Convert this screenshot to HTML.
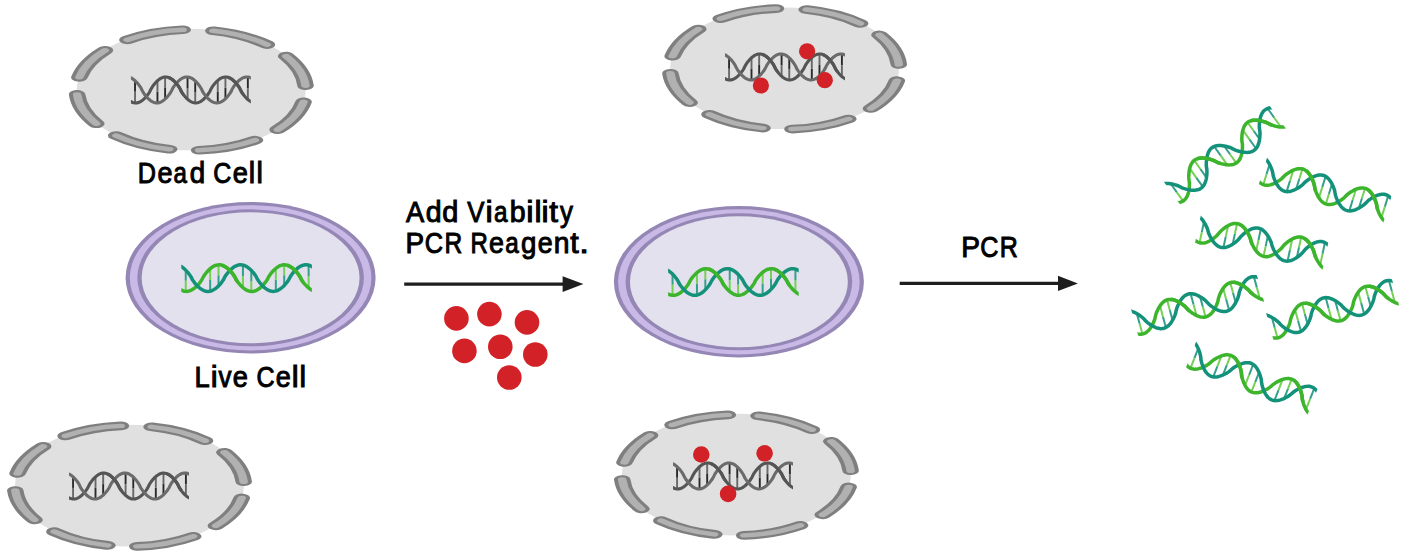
<!DOCTYPE html>
<html><head><meta charset="utf-8"><style>
html,body{margin:0;padding:0;background:#fff;}
body{width:1401px;height:554px;overflow:hidden;position:relative;}
svg{position:absolute;left:0;top:0;}
text{font-family:"Liberation Sans",sans-serif;font-size:29.1px;font-weight:normal;fill:#000;stroke:#000;stroke-width:1.0px;}
</style></head><body>
<svg width="1401" height="554" viewBox="0 0 1401 554">
<g transform="translate(191.30,89.50)">
<ellipse cx="0" cy="0" rx="114.5" ry="60.8" fill="#e0e0e0"/>
<g transform="translate(0,0.5) scale(1.9120,1.0085)">
<path d="M-33.409,-49.718 A59.90,59.90 0 0 1 -4.491,-59.731 M11.532,-58.779 A59.90,59.90 0 0 1 39.534,-45.001 M49.601,-33.582 A59.90,59.90 0 0 1 59.747,-4.283 M58.739,11.737 A59.90,59.90 0 0 1 45.138,39.377 M33.322,49.776 A59.90,59.90 0 0 1 4.074,59.761 M-11.532,58.779 A59.90,59.90 0 0 1 -39.298,45.207 M-49.659,33.496 A59.90,59.90 0 0 1 -59.739,4.387 M-58.569,-12.556 A59.90,59.90 0 0 1 -45.138,-39.377" fill="none" stroke="#7f7f7f" stroke-width="8.6" stroke-linecap="round"/>
<path d="M-33.409,-49.718 A59.90,59.90 0 0 1 -4.491,-59.731 M11.532,-58.779 A59.90,59.90 0 0 1 39.534,-45.001 M49.601,-33.582 A59.90,59.90 0 0 1 59.747,-4.283 M58.739,11.737 A59.90,59.90 0 0 1 45.138,39.377 M33.322,49.776 A59.90,59.90 0 0 1 4.074,59.761 M-11.532,58.779 A59.90,59.90 0 0 1 -39.298,45.207 M-49.659,33.496 A59.90,59.90 0 0 1 -59.739,4.387 M-58.569,-12.556 A59.90,59.90 0 0 1 -45.138,-39.377" fill="none" stroke="#b1b1b1" stroke-width="4.4" stroke-linecap="round"/>
</g></g>
<g transform="translate(130.95,74.95)">
<clipPath id="ca"><rect x="0" y="-5" width="119.90" height="40.00"/></clipPath>
<g clip-path="url(#ca)">
<line x1="4.08" y1="5.78" x2="4.08" y2="16.88" stroke="#2a2a2a" stroke-width="1.90"/>
<line x1="4.08" y1="16.88" x2="4.08" y2="27.98" stroke="#686868" stroke-width="1.90"/>
<line x1="26.50" y1="27.98" x2="26.50" y2="16.91" stroke="#2a2a2a" stroke-width="1.90"/>
<line x1="26.50" y1="16.91" x2="26.50" y2="5.83" stroke="#686868" stroke-width="1.90"/>
<line x1="34.17" y1="24.11" x2="34.17" y2="13.06" stroke="#2a2a2a" stroke-width="1.90"/>
<line x1="34.17" y1="13.06" x2="34.17" y2="2.01" stroke="#686868" stroke-width="1.90"/>
<line x1="56.59" y1="2.03" x2="56.59" y2="13.15" stroke="#2a2a2a" stroke-width="1.90"/>
<line x1="56.59" y1="13.15" x2="56.59" y2="24.28" stroke="#686868" stroke-width="1.90"/>
<line x1="64.27" y1="6.00" x2="64.27" y2="17.00" stroke="#2a2a2a" stroke-width="1.90"/>
<line x1="64.27" y1="17.00" x2="64.27" y2="27.99" stroke="#686868" stroke-width="1.90"/>
<line x1="86.81" y1="27.95" x2="86.81" y2="16.73" stroke="#2a2a2a" stroke-width="1.90"/>
<line x1="86.81" y1="16.73" x2="86.81" y2="5.51" stroke="#686868" stroke-width="1.90"/>
<line x1="94.48" y1="23.77" x2="94.48" y2="12.89" stroke="#2a2a2a" stroke-width="1.90"/>
<line x1="94.48" y1="12.89" x2="94.48" y2="2.00" stroke="#686868" stroke-width="1.90"/>
<line x1="116.90" y1="2.06" x2="116.90" y2="13.33" stroke="#2a2a2a" stroke-width="1.90"/>
<line x1="116.90" y1="13.33" x2="116.90" y2="24.60" stroke="#686868" stroke-width="1.90"/>
<path d="M-3.60,24.06 L-2.54,24.98 L-1.48,25.79 L-0.42,26.48 L0.64,27.04 L1.70,27.48 L2.76,27.78 L3.82,27.96 L4.88,28.00 L5.94,27.91 L6.99,27.68 L8.05,27.33 L9.11,26.84 L10.17,26.23 L11.23,25.50 L12.29,24.65 L13.35,23.68 L14.41,22.60 L15.47,21.40 L16.53,20.09 L17.59,18.65 L18.64,17.03 L19.70,14.86 L20.76,12.84 L21.82,11.24 L22.88,9.81 L23.94,8.51 L25.00,7.32 L26.06,6.24 L27.12,5.28 L28.18,4.44 L29.24,3.72 L30.29,3.12 L31.35,2.64 L32.41,2.30 L33.47,2.08 L34.53,2.00 L35.59,2.05 L36.65,2.24 L37.71,2.55 L38.77,3.00 L39.83,3.57 L40.89,4.27 L41.95,5.08 L43.00,6.02 L44.06,7.07 L45.12,8.23 L46.18,9.50 L47.24,10.90 L48.30,12.46 L49.36,14.31 L50.42,16.62 L51.48,18.30 L52.54,19.77 L53.60,21.11 L54.65,22.33 L55.71,23.44 L56.77,24.44 L57.83,25.32 L58.89,26.08 L59.95,26.72 L61.01,27.23 L62.07,27.61 L63.13,27.87 L64.19,27.99 L65.25,27.98 L66.30,27.83 L67.36,27.56 L68.42,27.15 L69.48,26.62 L70.54,25.96 L71.60,25.18 L72.66,24.28 L73.72,23.26 L74.78,22.14 L75.84,20.89 L76.90,19.53 L77.95,18.03 L79.01,16.31 L80.07,13.95 L81.13,12.18 L82.19,10.66 L83.25,9.28 L84.31,8.02 L85.37,6.88 L86.43,5.85 L87.49,4.94 L88.55,4.14 L89.61,3.46 L90.66,2.91 L91.72,2.49 L92.78,2.20 L93.84,2.03 L94.90,2.01 L95.96,2.11 L97.02,2.35 L98.08,2.71 L99.14,3.21 L100.20,3.83 L101.26,4.57 L102.31,5.44 L103.37,6.42 L104.43,7.51 L105.49,8.72 L106.55,10.04 L107.61,11.50 L108.67,13.14 L109.73,15.39 L110.79,17.32 L111.85,18.90 L112.91,20.32 L113.96,21.61 L115.02,22.79 L116.08,23.85 L117.14,24.80 L118.20,25.63 L119.26,26.35 L120.32,26.93 L121.38,27.40 L122.44,27.73 L123.50,27.93" fill="none" stroke="#555555" stroke-width="3.10"/>
<path d="M-3.60,2.01 L-2.54,2.13 L-1.48,2.38 L-0.42,2.76 L0.64,3.27 L1.70,3.91 L2.76,4.67 L3.82,5.54 L4.88,6.54 L5.94,7.64 L6.99,8.86 L8.05,10.20 L9.11,11.67 L10.17,13.34 L11.23,15.65 L12.29,17.51 L13.35,19.07 L14.41,20.47 L15.47,21.75 L16.53,22.91 L17.59,23.96 L18.64,24.90 L19.70,25.72 L20.76,26.42 L21.82,26.99 L22.88,27.44 L23.94,27.76 L25.00,27.95 L26.06,28.00 L27.12,27.92 L28.18,27.71 L29.24,27.37 L30.29,26.89 L31.35,26.30 L32.41,25.57 L33.47,24.73 L34.53,23.77 L35.59,22.70 L36.65,21.52 L37.71,20.22 L38.77,18.79 L39.83,17.19 L40.89,15.19 L41.95,13.01 L43.00,11.38 L44.06,9.94 L45.12,8.62 L46.18,7.43 L47.24,6.34 L48.30,5.37 L49.36,4.51 L50.42,3.78 L51.48,3.17 L52.54,2.68 L53.60,2.32 L54.65,2.10 L55.71,2.00 L56.77,2.04 L57.83,2.21 L58.89,2.52 L59.95,2.95 L61.01,3.51 L62.07,4.19 L63.13,5.00 L64.19,5.92 L65.25,6.96 L66.30,8.11 L67.36,9.38 L68.42,10.77 L69.48,12.30 L70.54,14.11 L71.60,16.45 L72.66,18.15 L73.72,19.64 L74.78,20.99 L75.84,22.22 L76.90,23.34 L77.95,24.35 L79.01,25.24 L80.07,26.01 L81.13,26.66 L82.19,27.19 L83.25,27.58 L84.31,27.85 L85.37,27.98 L86.43,27.98 L87.49,27.85 L88.55,27.59 L89.61,27.19 L90.66,26.67 L91.72,26.03 L92.78,25.26 L93.84,24.37 L94.90,23.36 L95.96,22.25 L97.02,21.02 L98.08,19.67 L99.14,18.18 L100.20,16.48 L101.26,14.14 L102.31,12.34 L103.37,10.79 L104.43,9.40 L105.49,8.14 L106.55,6.98 L107.61,5.94 L108.67,5.02 L109.73,4.21 L110.79,3.52 L111.85,2.96 L112.91,2.52 L113.96,2.22 L115.02,2.04 L116.08,2.00 L117.14,2.09 L118.20,2.32 L119.26,2.67 L120.32,3.16 L121.38,3.77 L122.44,4.50 L123.50,5.35" fill="none" stroke="#6b6b6b" stroke-width="3.10"/>
<path d="M38.10,2.70 L38.82,3.02 L39.54,3.40 L40.26,3.84 L40.98,4.33 L41.70,4.88 L42.41,5.48 L43.13,6.14 L43.85,6.85 L44.57,7.61 L45.29,8.42 L46.01,9.29 L46.73,10.21 L47.45,11.20 L48.17,12.26 L48.89,13.43 L49.61,14.89 L50.33,16.47 L51.05,17.65 L51.77,18.72 L52.49,19.71" fill="none" stroke="#555555" stroke-width="3.10"/>
<path d="M98.05,2.70 L98.77,3.02 L99.49,3.40 L100.21,3.84 L100.93,4.33 L101.65,4.88 L102.36,5.48 L103.08,6.14 L103.80,6.85 L104.52,7.61 L105.24,8.42 L105.96,9.29 L106.68,10.21 L107.40,11.20 L108.12,12.26 L108.84,13.43 L109.56,14.89 L110.28,16.47 L111.00,17.65 L111.72,18.72 L112.44,19.71" fill="none" stroke="#555555" stroke-width="3.10"/>
</g>
</g>
<g transform="translate(784.60,68.30)">
<ellipse cx="0" cy="0" rx="114.5" ry="60.8" fill="#e0e0e0"/>
<g transform="translate(0,0.5) scale(1.9120,1.0085)">
<path d="M-33.409,-49.718 A59.90,59.90 0 0 1 -4.491,-59.731 M11.532,-58.779 A59.90,59.90 0 0 1 39.534,-45.001 M49.601,-33.582 A59.90,59.90 0 0 1 59.747,-4.283 M58.739,11.737 A59.90,59.90 0 0 1 45.138,39.377 M33.322,49.776 A59.90,59.90 0 0 1 4.074,59.761 M-11.532,58.779 A59.90,59.90 0 0 1 -39.298,45.207 M-49.659,33.496 A59.90,59.90 0 0 1 -59.739,4.387 M-58.569,-12.556 A59.90,59.90 0 0 1 -45.138,-39.377" fill="none" stroke="#7f7f7f" stroke-width="8.6" stroke-linecap="round"/>
<path d="M-33.409,-49.718 A59.90,59.90 0 0 1 -4.491,-59.731 M11.532,-58.779 A59.90,59.90 0 0 1 39.534,-45.001 M49.601,-33.582 A59.90,59.90 0 0 1 59.747,-4.283 M58.739,11.737 A59.90,59.90 0 0 1 45.138,39.377 M33.322,49.776 A59.90,59.90 0 0 1 4.074,59.761 M-11.532,58.779 A59.90,59.90 0 0 1 -39.298,45.207 M-49.659,33.496 A59.90,59.90 0 0 1 -59.739,4.387 M-58.569,-12.556 A59.90,59.90 0 0 1 -45.138,-39.377" fill="none" stroke="#b1b1b1" stroke-width="4.4" stroke-linecap="round"/>
</g></g>
<g transform="translate(725.00,51.95)">
<clipPath id="cb"><rect x="0" y="-5" width="119.90" height="40.00"/></clipPath>
<g clip-path="url(#cb)">
<line x1="4.08" y1="5.78" x2="4.08" y2="16.88" stroke="#2a2a2a" stroke-width="1.90"/>
<line x1="4.08" y1="16.88" x2="4.08" y2="27.98" stroke="#686868" stroke-width="1.90"/>
<line x1="26.50" y1="27.98" x2="26.50" y2="16.91" stroke="#2a2a2a" stroke-width="1.90"/>
<line x1="26.50" y1="16.91" x2="26.50" y2="5.83" stroke="#686868" stroke-width="1.90"/>
<line x1="34.17" y1="24.11" x2="34.17" y2="13.06" stroke="#2a2a2a" stroke-width="1.90"/>
<line x1="34.17" y1="13.06" x2="34.17" y2="2.01" stroke="#686868" stroke-width="1.90"/>
<line x1="56.59" y1="2.03" x2="56.59" y2="13.15" stroke="#2a2a2a" stroke-width="1.90"/>
<line x1="56.59" y1="13.15" x2="56.59" y2="24.28" stroke="#686868" stroke-width="1.90"/>
<line x1="64.27" y1="6.00" x2="64.27" y2="17.00" stroke="#2a2a2a" stroke-width="1.90"/>
<line x1="64.27" y1="17.00" x2="64.27" y2="27.99" stroke="#686868" stroke-width="1.90"/>
<line x1="86.81" y1="27.95" x2="86.81" y2="16.73" stroke="#2a2a2a" stroke-width="1.90"/>
<line x1="86.81" y1="16.73" x2="86.81" y2="5.51" stroke="#686868" stroke-width="1.90"/>
<line x1="94.48" y1="23.77" x2="94.48" y2="12.89" stroke="#2a2a2a" stroke-width="1.90"/>
<line x1="94.48" y1="12.89" x2="94.48" y2="2.00" stroke="#686868" stroke-width="1.90"/>
<line x1="116.90" y1="2.06" x2="116.90" y2="13.33" stroke="#2a2a2a" stroke-width="1.90"/>
<line x1="116.90" y1="13.33" x2="116.90" y2="24.60" stroke="#686868" stroke-width="1.90"/>
<path d="M-3.60,24.06 L-2.54,24.98 L-1.48,25.79 L-0.42,26.48 L0.64,27.04 L1.70,27.48 L2.76,27.78 L3.82,27.96 L4.88,28.00 L5.94,27.91 L6.99,27.68 L8.05,27.33 L9.11,26.84 L10.17,26.23 L11.23,25.50 L12.29,24.65 L13.35,23.68 L14.41,22.60 L15.47,21.40 L16.53,20.09 L17.59,18.65 L18.64,17.03 L19.70,14.86 L20.76,12.84 L21.82,11.24 L22.88,9.81 L23.94,8.51 L25.00,7.32 L26.06,6.24 L27.12,5.28 L28.18,4.44 L29.24,3.72 L30.29,3.12 L31.35,2.64 L32.41,2.30 L33.47,2.08 L34.53,2.00 L35.59,2.05 L36.65,2.24 L37.71,2.55 L38.77,3.00 L39.83,3.57 L40.89,4.27 L41.95,5.08 L43.00,6.02 L44.06,7.07 L45.12,8.23 L46.18,9.50 L47.24,10.90 L48.30,12.46 L49.36,14.31 L50.42,16.62 L51.48,18.30 L52.54,19.77 L53.60,21.11 L54.65,22.33 L55.71,23.44 L56.77,24.44 L57.83,25.32 L58.89,26.08 L59.95,26.72 L61.01,27.23 L62.07,27.61 L63.13,27.87 L64.19,27.99 L65.25,27.98 L66.30,27.83 L67.36,27.56 L68.42,27.15 L69.48,26.62 L70.54,25.96 L71.60,25.18 L72.66,24.28 L73.72,23.26 L74.78,22.14 L75.84,20.89 L76.90,19.53 L77.95,18.03 L79.01,16.31 L80.07,13.95 L81.13,12.18 L82.19,10.66 L83.25,9.28 L84.31,8.02 L85.37,6.88 L86.43,5.85 L87.49,4.94 L88.55,4.14 L89.61,3.46 L90.66,2.91 L91.72,2.49 L92.78,2.20 L93.84,2.03 L94.90,2.01 L95.96,2.11 L97.02,2.35 L98.08,2.71 L99.14,3.21 L100.20,3.83 L101.26,4.57 L102.31,5.44 L103.37,6.42 L104.43,7.51 L105.49,8.72 L106.55,10.04 L107.61,11.50 L108.67,13.14 L109.73,15.39 L110.79,17.32 L111.85,18.90 L112.91,20.32 L113.96,21.61 L115.02,22.79 L116.08,23.85 L117.14,24.80 L118.20,25.63 L119.26,26.35 L120.32,26.93 L121.38,27.40 L122.44,27.73 L123.50,27.93" fill="none" stroke="#555555" stroke-width="3.10"/>
<path d="M-3.60,2.01 L-2.54,2.13 L-1.48,2.38 L-0.42,2.76 L0.64,3.27 L1.70,3.91 L2.76,4.67 L3.82,5.54 L4.88,6.54 L5.94,7.64 L6.99,8.86 L8.05,10.20 L9.11,11.67 L10.17,13.34 L11.23,15.65 L12.29,17.51 L13.35,19.07 L14.41,20.47 L15.47,21.75 L16.53,22.91 L17.59,23.96 L18.64,24.90 L19.70,25.72 L20.76,26.42 L21.82,26.99 L22.88,27.44 L23.94,27.76 L25.00,27.95 L26.06,28.00 L27.12,27.92 L28.18,27.71 L29.24,27.37 L30.29,26.89 L31.35,26.30 L32.41,25.57 L33.47,24.73 L34.53,23.77 L35.59,22.70 L36.65,21.52 L37.71,20.22 L38.77,18.79 L39.83,17.19 L40.89,15.19 L41.95,13.01 L43.00,11.38 L44.06,9.94 L45.12,8.62 L46.18,7.43 L47.24,6.34 L48.30,5.37 L49.36,4.51 L50.42,3.78 L51.48,3.17 L52.54,2.68 L53.60,2.32 L54.65,2.10 L55.71,2.00 L56.77,2.04 L57.83,2.21 L58.89,2.52 L59.95,2.95 L61.01,3.51 L62.07,4.19 L63.13,5.00 L64.19,5.92 L65.25,6.96 L66.30,8.11 L67.36,9.38 L68.42,10.77 L69.48,12.30 L70.54,14.11 L71.60,16.45 L72.66,18.15 L73.72,19.64 L74.78,20.99 L75.84,22.22 L76.90,23.34 L77.95,24.35 L79.01,25.24 L80.07,26.01 L81.13,26.66 L82.19,27.19 L83.25,27.58 L84.31,27.85 L85.37,27.98 L86.43,27.98 L87.49,27.85 L88.55,27.59 L89.61,27.19 L90.66,26.67 L91.72,26.03 L92.78,25.26 L93.84,24.37 L94.90,23.36 L95.96,22.25 L97.02,21.02 L98.08,19.67 L99.14,18.18 L100.20,16.48 L101.26,14.14 L102.31,12.34 L103.37,10.79 L104.43,9.40 L105.49,8.14 L106.55,6.98 L107.61,5.94 L108.67,5.02 L109.73,4.21 L110.79,3.52 L111.85,2.96 L112.91,2.52 L113.96,2.22 L115.02,2.04 L116.08,2.00 L117.14,2.09 L118.20,2.32 L119.26,2.67 L120.32,3.16 L121.38,3.77 L122.44,4.50 L123.50,5.35" fill="none" stroke="#6b6b6b" stroke-width="3.10"/>
<path d="M38.10,2.70 L38.82,3.02 L39.54,3.40 L40.26,3.84 L40.98,4.33 L41.70,4.88 L42.41,5.48 L43.13,6.14 L43.85,6.85 L44.57,7.61 L45.29,8.42 L46.01,9.29 L46.73,10.21 L47.45,11.20 L48.17,12.26 L48.89,13.43 L49.61,14.89 L50.33,16.47 L51.05,17.65 L51.77,18.72 L52.49,19.71" fill="none" stroke="#555555" stroke-width="3.10"/>
<path d="M98.05,2.70 L98.77,3.02 L99.49,3.40 L100.21,3.84 L100.93,4.33 L101.65,4.88 L102.36,5.48 L103.08,6.14 L103.80,6.85 L104.52,7.61 L105.24,8.42 L105.96,9.29 L106.68,10.21 L107.40,11.20 L108.12,12.26 L108.84,13.43 L109.56,14.89 L110.28,16.47 L111.00,17.65 L111.72,18.72 L112.44,19.71" fill="none" stroke="#555555" stroke-width="3.10"/>
</g>
</g>
<g transform="translate(129.50,485.60)">
<ellipse cx="0" cy="0" rx="114.5" ry="60.8" fill="#e0e0e0"/>
<g transform="translate(0,0.5) scale(1.9120,1.0085)">
<path d="M-33.409,-49.718 A59.90,59.90 0 0 1 -4.491,-59.731 M11.532,-58.779 A59.90,59.90 0 0 1 39.534,-45.001 M49.601,-33.582 A59.90,59.90 0 0 1 59.747,-4.283 M58.739,11.737 A59.90,59.90 0 0 1 45.138,39.377 M33.322,49.776 A59.90,59.90 0 0 1 4.074,59.761 M-11.532,58.779 A59.90,59.90 0 0 1 -39.298,45.207 M-49.659,33.496 A59.90,59.90 0 0 1 -59.739,4.387 M-58.569,-12.556 A59.90,59.90 0 0 1 -45.138,-39.377" fill="none" stroke="#7f7f7f" stroke-width="8.6" stroke-linecap="round"/>
<path d="M-33.409,-49.718 A59.90,59.90 0 0 1 -4.491,-59.731 M11.532,-58.779 A59.90,59.90 0 0 1 39.534,-45.001 M49.601,-33.582 A59.90,59.90 0 0 1 59.747,-4.283 M58.739,11.737 A59.90,59.90 0 0 1 45.138,39.377 M33.322,49.776 A59.90,59.90 0 0 1 4.074,59.761 M-11.532,58.779 A59.90,59.90 0 0 1 -39.298,45.207 M-49.659,33.496 A59.90,59.90 0 0 1 -59.739,4.387 M-58.569,-12.556 A59.90,59.90 0 0 1 -45.138,-39.377" fill="none" stroke="#b1b1b1" stroke-width="4.4" stroke-linecap="round"/>
</g></g>
<g transform="translate(69.00,471.05)">
<clipPath id="cc"><rect x="0" y="-5" width="119.90" height="40.00"/></clipPath>
<g clip-path="url(#cc)">
<line x1="4.08" y1="5.78" x2="4.08" y2="16.88" stroke="#2a2a2a" stroke-width="1.90"/>
<line x1="4.08" y1="16.88" x2="4.08" y2="27.98" stroke="#686868" stroke-width="1.90"/>
<line x1="26.50" y1="27.98" x2="26.50" y2="16.91" stroke="#2a2a2a" stroke-width="1.90"/>
<line x1="26.50" y1="16.91" x2="26.50" y2="5.83" stroke="#686868" stroke-width="1.90"/>
<line x1="34.17" y1="24.11" x2="34.17" y2="13.06" stroke="#2a2a2a" stroke-width="1.90"/>
<line x1="34.17" y1="13.06" x2="34.17" y2="2.01" stroke="#686868" stroke-width="1.90"/>
<line x1="56.59" y1="2.03" x2="56.59" y2="13.15" stroke="#2a2a2a" stroke-width="1.90"/>
<line x1="56.59" y1="13.15" x2="56.59" y2="24.28" stroke="#686868" stroke-width="1.90"/>
<line x1="64.27" y1="6.00" x2="64.27" y2="17.00" stroke="#2a2a2a" stroke-width="1.90"/>
<line x1="64.27" y1="17.00" x2="64.27" y2="27.99" stroke="#686868" stroke-width="1.90"/>
<line x1="86.81" y1="27.95" x2="86.81" y2="16.73" stroke="#2a2a2a" stroke-width="1.90"/>
<line x1="86.81" y1="16.73" x2="86.81" y2="5.51" stroke="#686868" stroke-width="1.90"/>
<line x1="94.48" y1="23.77" x2="94.48" y2="12.89" stroke="#2a2a2a" stroke-width="1.90"/>
<line x1="94.48" y1="12.89" x2="94.48" y2="2.00" stroke="#686868" stroke-width="1.90"/>
<line x1="116.90" y1="2.06" x2="116.90" y2="13.33" stroke="#2a2a2a" stroke-width="1.90"/>
<line x1="116.90" y1="13.33" x2="116.90" y2="24.60" stroke="#686868" stroke-width="1.90"/>
<path d="M-3.60,24.06 L-2.54,24.98 L-1.48,25.79 L-0.42,26.48 L0.64,27.04 L1.70,27.48 L2.76,27.78 L3.82,27.96 L4.88,28.00 L5.94,27.91 L6.99,27.68 L8.05,27.33 L9.11,26.84 L10.17,26.23 L11.23,25.50 L12.29,24.65 L13.35,23.68 L14.41,22.60 L15.47,21.40 L16.53,20.09 L17.59,18.65 L18.64,17.03 L19.70,14.86 L20.76,12.84 L21.82,11.24 L22.88,9.81 L23.94,8.51 L25.00,7.32 L26.06,6.24 L27.12,5.28 L28.18,4.44 L29.24,3.72 L30.29,3.12 L31.35,2.64 L32.41,2.30 L33.47,2.08 L34.53,2.00 L35.59,2.05 L36.65,2.24 L37.71,2.55 L38.77,3.00 L39.83,3.57 L40.89,4.27 L41.95,5.08 L43.00,6.02 L44.06,7.07 L45.12,8.23 L46.18,9.50 L47.24,10.90 L48.30,12.46 L49.36,14.31 L50.42,16.62 L51.48,18.30 L52.54,19.77 L53.60,21.11 L54.65,22.33 L55.71,23.44 L56.77,24.44 L57.83,25.32 L58.89,26.08 L59.95,26.72 L61.01,27.23 L62.07,27.61 L63.13,27.87 L64.19,27.99 L65.25,27.98 L66.30,27.83 L67.36,27.56 L68.42,27.15 L69.48,26.62 L70.54,25.96 L71.60,25.18 L72.66,24.28 L73.72,23.26 L74.78,22.14 L75.84,20.89 L76.90,19.53 L77.95,18.03 L79.01,16.31 L80.07,13.95 L81.13,12.18 L82.19,10.66 L83.25,9.28 L84.31,8.02 L85.37,6.88 L86.43,5.85 L87.49,4.94 L88.55,4.14 L89.61,3.46 L90.66,2.91 L91.72,2.49 L92.78,2.20 L93.84,2.03 L94.90,2.01 L95.96,2.11 L97.02,2.35 L98.08,2.71 L99.14,3.21 L100.20,3.83 L101.26,4.57 L102.31,5.44 L103.37,6.42 L104.43,7.51 L105.49,8.72 L106.55,10.04 L107.61,11.50 L108.67,13.14 L109.73,15.39 L110.79,17.32 L111.85,18.90 L112.91,20.32 L113.96,21.61 L115.02,22.79 L116.08,23.85 L117.14,24.80 L118.20,25.63 L119.26,26.35 L120.32,26.93 L121.38,27.40 L122.44,27.73 L123.50,27.93" fill="none" stroke="#555555" stroke-width="3.10"/>
<path d="M-3.60,2.01 L-2.54,2.13 L-1.48,2.38 L-0.42,2.76 L0.64,3.27 L1.70,3.91 L2.76,4.67 L3.82,5.54 L4.88,6.54 L5.94,7.64 L6.99,8.86 L8.05,10.20 L9.11,11.67 L10.17,13.34 L11.23,15.65 L12.29,17.51 L13.35,19.07 L14.41,20.47 L15.47,21.75 L16.53,22.91 L17.59,23.96 L18.64,24.90 L19.70,25.72 L20.76,26.42 L21.82,26.99 L22.88,27.44 L23.94,27.76 L25.00,27.95 L26.06,28.00 L27.12,27.92 L28.18,27.71 L29.24,27.37 L30.29,26.89 L31.35,26.30 L32.41,25.57 L33.47,24.73 L34.53,23.77 L35.59,22.70 L36.65,21.52 L37.71,20.22 L38.77,18.79 L39.83,17.19 L40.89,15.19 L41.95,13.01 L43.00,11.38 L44.06,9.94 L45.12,8.62 L46.18,7.43 L47.24,6.34 L48.30,5.37 L49.36,4.51 L50.42,3.78 L51.48,3.17 L52.54,2.68 L53.60,2.32 L54.65,2.10 L55.71,2.00 L56.77,2.04 L57.83,2.21 L58.89,2.52 L59.95,2.95 L61.01,3.51 L62.07,4.19 L63.13,5.00 L64.19,5.92 L65.25,6.96 L66.30,8.11 L67.36,9.38 L68.42,10.77 L69.48,12.30 L70.54,14.11 L71.60,16.45 L72.66,18.15 L73.72,19.64 L74.78,20.99 L75.84,22.22 L76.90,23.34 L77.95,24.35 L79.01,25.24 L80.07,26.01 L81.13,26.66 L82.19,27.19 L83.25,27.58 L84.31,27.85 L85.37,27.98 L86.43,27.98 L87.49,27.85 L88.55,27.59 L89.61,27.19 L90.66,26.67 L91.72,26.03 L92.78,25.26 L93.84,24.37 L94.90,23.36 L95.96,22.25 L97.02,21.02 L98.08,19.67 L99.14,18.18 L100.20,16.48 L101.26,14.14 L102.31,12.34 L103.37,10.79 L104.43,9.40 L105.49,8.14 L106.55,6.98 L107.61,5.94 L108.67,5.02 L109.73,4.21 L110.79,3.52 L111.85,2.96 L112.91,2.52 L113.96,2.22 L115.02,2.04 L116.08,2.00 L117.14,2.09 L118.20,2.32 L119.26,2.67 L120.32,3.16 L121.38,3.77 L122.44,4.50 L123.50,5.35" fill="none" stroke="#6b6b6b" stroke-width="3.10"/>
<path d="M38.10,2.70 L38.82,3.02 L39.54,3.40 L40.26,3.84 L40.98,4.33 L41.70,4.88 L42.41,5.48 L43.13,6.14 L43.85,6.85 L44.57,7.61 L45.29,8.42 L46.01,9.29 L46.73,10.21 L47.45,11.20 L48.17,12.26 L48.89,13.43 L49.61,14.89 L50.33,16.47 L51.05,17.65 L51.77,18.72 L52.49,19.71" fill="none" stroke="#555555" stroke-width="3.10"/>
<path d="M98.05,2.70 L98.77,3.02 L99.49,3.40 L100.21,3.84 L100.93,4.33 L101.65,4.88 L102.36,5.48 L103.08,6.14 L103.80,6.85 L104.52,7.61 L105.24,8.42 L105.96,9.29 L106.68,10.21 L107.40,11.20 L108.12,12.26 L108.84,13.43 L109.56,14.89 L110.28,16.47 L111.00,17.65 L111.72,18.72 L112.44,19.71" fill="none" stroke="#555555" stroke-width="3.10"/>
</g>
</g>
<g transform="translate(736.40,474.60)">
<ellipse cx="0" cy="0" rx="114.5" ry="60.8" fill="#e0e0e0"/>
<g transform="translate(0,0.5) scale(1.9120,1.0085)">
<path d="M-33.409,-49.718 A59.90,59.90 0 0 1 -4.491,-59.731 M11.532,-58.779 A59.90,59.90 0 0 1 39.534,-45.001 M49.601,-33.582 A59.90,59.90 0 0 1 59.747,-4.283 M58.739,11.737 A59.90,59.90 0 0 1 45.138,39.377 M33.322,49.776 A59.90,59.90 0 0 1 4.074,59.761 M-11.532,58.779 A59.90,59.90 0 0 1 -39.298,45.207 M-49.659,33.496 A59.90,59.90 0 0 1 -59.739,4.387 M-58.569,-12.556 A59.90,59.90 0 0 1 -45.138,-39.377" fill="none" stroke="#7f7f7f" stroke-width="8.6" stroke-linecap="round"/>
<path d="M-33.409,-49.718 A59.90,59.90 0 0 1 -4.491,-59.731 M11.532,-58.779 A59.90,59.90 0 0 1 39.534,-45.001 M49.601,-33.582 A59.90,59.90 0 0 1 59.747,-4.283 M58.739,11.737 A59.90,59.90 0 0 1 45.138,39.377 M33.322,49.776 A59.90,59.90 0 0 1 4.074,59.761 M-11.532,58.779 A59.90,59.90 0 0 1 -39.298,45.207 M-49.659,33.496 A59.90,59.90 0 0 1 -59.739,4.387 M-58.569,-12.556 A59.90,59.90 0 0 1 -45.138,-39.377" fill="none" stroke="#b1b1b1" stroke-width="4.4" stroke-linecap="round"/>
</g></g>
<g transform="translate(673.00,460.95)">
<clipPath id="ce"><rect x="0" y="-5" width="119.90" height="40.00"/></clipPath>
<g clip-path="url(#ce)">
<line x1="4.08" y1="5.78" x2="4.08" y2="16.88" stroke="#2a2a2a" stroke-width="1.90"/>
<line x1="4.08" y1="16.88" x2="4.08" y2="27.98" stroke="#686868" stroke-width="1.90"/>
<line x1="26.50" y1="27.98" x2="26.50" y2="16.91" stroke="#2a2a2a" stroke-width="1.90"/>
<line x1="26.50" y1="16.91" x2="26.50" y2="5.83" stroke="#686868" stroke-width="1.90"/>
<line x1="34.17" y1="24.11" x2="34.17" y2="13.06" stroke="#2a2a2a" stroke-width="1.90"/>
<line x1="34.17" y1="13.06" x2="34.17" y2="2.01" stroke="#686868" stroke-width="1.90"/>
<line x1="56.59" y1="2.03" x2="56.59" y2="13.15" stroke="#2a2a2a" stroke-width="1.90"/>
<line x1="56.59" y1="13.15" x2="56.59" y2="24.28" stroke="#686868" stroke-width="1.90"/>
<line x1="64.27" y1="6.00" x2="64.27" y2="17.00" stroke="#2a2a2a" stroke-width="1.90"/>
<line x1="64.27" y1="17.00" x2="64.27" y2="27.99" stroke="#686868" stroke-width="1.90"/>
<line x1="86.81" y1="27.95" x2="86.81" y2="16.73" stroke="#2a2a2a" stroke-width="1.90"/>
<line x1="86.81" y1="16.73" x2="86.81" y2="5.51" stroke="#686868" stroke-width="1.90"/>
<line x1="94.48" y1="23.77" x2="94.48" y2="12.89" stroke="#2a2a2a" stroke-width="1.90"/>
<line x1="94.48" y1="12.89" x2="94.48" y2="2.00" stroke="#686868" stroke-width="1.90"/>
<line x1="116.90" y1="2.06" x2="116.90" y2="13.33" stroke="#2a2a2a" stroke-width="1.90"/>
<line x1="116.90" y1="13.33" x2="116.90" y2="24.60" stroke="#686868" stroke-width="1.90"/>
<path d="M-3.60,24.06 L-2.54,24.98 L-1.48,25.79 L-0.42,26.48 L0.64,27.04 L1.70,27.48 L2.76,27.78 L3.82,27.96 L4.88,28.00 L5.94,27.91 L6.99,27.68 L8.05,27.33 L9.11,26.84 L10.17,26.23 L11.23,25.50 L12.29,24.65 L13.35,23.68 L14.41,22.60 L15.47,21.40 L16.53,20.09 L17.59,18.65 L18.64,17.03 L19.70,14.86 L20.76,12.84 L21.82,11.24 L22.88,9.81 L23.94,8.51 L25.00,7.32 L26.06,6.24 L27.12,5.28 L28.18,4.44 L29.24,3.72 L30.29,3.12 L31.35,2.64 L32.41,2.30 L33.47,2.08 L34.53,2.00 L35.59,2.05 L36.65,2.24 L37.71,2.55 L38.77,3.00 L39.83,3.57 L40.89,4.27 L41.95,5.08 L43.00,6.02 L44.06,7.07 L45.12,8.23 L46.18,9.50 L47.24,10.90 L48.30,12.46 L49.36,14.31 L50.42,16.62 L51.48,18.30 L52.54,19.77 L53.60,21.11 L54.65,22.33 L55.71,23.44 L56.77,24.44 L57.83,25.32 L58.89,26.08 L59.95,26.72 L61.01,27.23 L62.07,27.61 L63.13,27.87 L64.19,27.99 L65.25,27.98 L66.30,27.83 L67.36,27.56 L68.42,27.15 L69.48,26.62 L70.54,25.96 L71.60,25.18 L72.66,24.28 L73.72,23.26 L74.78,22.14 L75.84,20.89 L76.90,19.53 L77.95,18.03 L79.01,16.31 L80.07,13.95 L81.13,12.18 L82.19,10.66 L83.25,9.28 L84.31,8.02 L85.37,6.88 L86.43,5.85 L87.49,4.94 L88.55,4.14 L89.61,3.46 L90.66,2.91 L91.72,2.49 L92.78,2.20 L93.84,2.03 L94.90,2.01 L95.96,2.11 L97.02,2.35 L98.08,2.71 L99.14,3.21 L100.20,3.83 L101.26,4.57 L102.31,5.44 L103.37,6.42 L104.43,7.51 L105.49,8.72 L106.55,10.04 L107.61,11.50 L108.67,13.14 L109.73,15.39 L110.79,17.32 L111.85,18.90 L112.91,20.32 L113.96,21.61 L115.02,22.79 L116.08,23.85 L117.14,24.80 L118.20,25.63 L119.26,26.35 L120.32,26.93 L121.38,27.40 L122.44,27.73 L123.50,27.93" fill="none" stroke="#555555" stroke-width="3.10"/>
<path d="M-3.60,2.01 L-2.54,2.13 L-1.48,2.38 L-0.42,2.76 L0.64,3.27 L1.70,3.91 L2.76,4.67 L3.82,5.54 L4.88,6.54 L5.94,7.64 L6.99,8.86 L8.05,10.20 L9.11,11.67 L10.17,13.34 L11.23,15.65 L12.29,17.51 L13.35,19.07 L14.41,20.47 L15.47,21.75 L16.53,22.91 L17.59,23.96 L18.64,24.90 L19.70,25.72 L20.76,26.42 L21.82,26.99 L22.88,27.44 L23.94,27.76 L25.00,27.95 L26.06,28.00 L27.12,27.92 L28.18,27.71 L29.24,27.37 L30.29,26.89 L31.35,26.30 L32.41,25.57 L33.47,24.73 L34.53,23.77 L35.59,22.70 L36.65,21.52 L37.71,20.22 L38.77,18.79 L39.83,17.19 L40.89,15.19 L41.95,13.01 L43.00,11.38 L44.06,9.94 L45.12,8.62 L46.18,7.43 L47.24,6.34 L48.30,5.37 L49.36,4.51 L50.42,3.78 L51.48,3.17 L52.54,2.68 L53.60,2.32 L54.65,2.10 L55.71,2.00 L56.77,2.04 L57.83,2.21 L58.89,2.52 L59.95,2.95 L61.01,3.51 L62.07,4.19 L63.13,5.00 L64.19,5.92 L65.25,6.96 L66.30,8.11 L67.36,9.38 L68.42,10.77 L69.48,12.30 L70.54,14.11 L71.60,16.45 L72.66,18.15 L73.72,19.64 L74.78,20.99 L75.84,22.22 L76.90,23.34 L77.95,24.35 L79.01,25.24 L80.07,26.01 L81.13,26.66 L82.19,27.19 L83.25,27.58 L84.31,27.85 L85.37,27.98 L86.43,27.98 L87.49,27.85 L88.55,27.59 L89.61,27.19 L90.66,26.67 L91.72,26.03 L92.78,25.26 L93.84,24.37 L94.90,23.36 L95.96,22.25 L97.02,21.02 L98.08,19.67 L99.14,18.18 L100.20,16.48 L101.26,14.14 L102.31,12.34 L103.37,10.79 L104.43,9.40 L105.49,8.14 L106.55,6.98 L107.61,5.94 L108.67,5.02 L109.73,4.21 L110.79,3.52 L111.85,2.96 L112.91,2.52 L113.96,2.22 L115.02,2.04 L116.08,2.00 L117.14,2.09 L118.20,2.32 L119.26,2.67 L120.32,3.16 L121.38,3.77 L122.44,4.50 L123.50,5.35" fill="none" stroke="#6b6b6b" stroke-width="3.10"/>
<path d="M38.10,2.70 L38.82,3.02 L39.54,3.40 L40.26,3.84 L40.98,4.33 L41.70,4.88 L42.41,5.48 L43.13,6.14 L43.85,6.85 L44.57,7.61 L45.29,8.42 L46.01,9.29 L46.73,10.21 L47.45,11.20 L48.17,12.26 L48.89,13.43 L49.61,14.89 L50.33,16.47 L51.05,17.65 L51.77,18.72 L52.49,19.71" fill="none" stroke="#555555" stroke-width="3.10"/>
<path d="M98.05,2.70 L98.77,3.02 L99.49,3.40 L100.21,3.84 L100.93,4.33 L101.65,4.88 L102.36,5.48 L103.08,6.14 L103.80,6.85 L104.52,7.61 L105.24,8.42 L105.96,9.29 L106.68,10.21 L107.40,11.20 L108.12,12.26 L108.84,13.43 L109.56,14.89 L110.28,16.47 L111.00,17.65 L111.72,18.72 L112.44,19.71" fill="none" stroke="#555555" stroke-width="3.10"/>
</g>
</g>
<g transform="translate(250.60,277.80)">
<ellipse rx="125.0" ry="75.75" fill="#9587b5"/>
<ellipse rx="120.8" ry="72.6" fill="#c9b9e6"/>
<ellipse rx="113.3" ry="68.45" fill="#9587b5"/>
<ellipse rx="108.95" ry="65.5" fill="#e4e1ee"/>
</g>
<g transform="translate(181.30,263.10)">
<clipPath id="cf"><rect x="0" y="-5" width="130.60" height="40.00"/></clipPath>
<g clip-path="url(#cf)">
<line x1="4.44" y1="7.08" x2="4.44" y2="17.68" stroke="#33a08b" stroke-width="2.00"/>
<line x1="4.44" y1="17.68" x2="4.44" y2="28.28" stroke="#74d155" stroke-width="2.00"/>
<line x1="28.86" y1="28.05" x2="28.86" y2="16.83" stroke="#33a08b" stroke-width="2.00"/>
<line x1="28.86" y1="16.83" x2="28.86" y2="5.62" stroke="#74d155" stroke-width="2.00"/>
<line x1="37.22" y1="22.79" x2="37.22" y2="12.25" stroke="#33a08b" stroke-width="2.00"/>
<line x1="37.22" y1="12.25" x2="37.22" y2="1.71" stroke="#74d155" stroke-width="2.00"/>
<line x1="61.64" y1="1.98" x2="61.64" y2="13.24" stroke="#33a08b" stroke-width="2.00"/>
<line x1="61.64" y1="13.24" x2="61.64" y2="24.49" stroke="#74d155" stroke-width="2.00"/>
<line x1="70.00" y1="7.34" x2="70.00" y2="17.82" stroke="#33a08b" stroke-width="2.00"/>
<line x1="70.00" y1="17.82" x2="70.00" y2="28.29" stroke="#74d155" stroke-width="2.00"/>
<line x1="94.55" y1="27.95" x2="94.55" y2="16.62" stroke="#33a08b" stroke-width="2.00"/>
<line x1="94.55" y1="16.62" x2="94.55" y2="5.29" stroke="#74d155" stroke-width="2.00"/>
<line x1="102.91" y1="22.39" x2="102.91" y2="12.05" stroke="#33a08b" stroke-width="2.00"/>
<line x1="102.91" y1="12.05" x2="102.91" y2="1.70" stroke="#74d155" stroke-width="2.00"/>
<line x1="127.33" y1="2.08" x2="127.33" y2="13.45" stroke="#33a08b" stroke-width="2.00"/>
<line x1="127.33" y1="13.45" x2="127.33" y2="24.82" stroke="#74d155" stroke-width="2.00"/>
<path d="M-3.92,24.27 L-2.76,25.21 L-1.61,26.04 L-0.46,26.74 L0.70,27.32 L1.85,27.76 L3.00,28.08 L4.16,28.26 L5.31,28.30 L6.46,28.20 L7.62,27.97 L8.77,27.61 L9.93,27.12 L11.08,26.49 L12.23,25.74 L13.39,24.87 L14.54,23.88 L15.69,22.77 L16.85,21.55 L18.00,20.20 L19.15,18.73 L20.31,17.07 L21.46,14.86 L22.62,12.79 L23.77,11.15 L24.92,9.69 L26.08,8.36 L27.23,7.14 L28.38,6.04 L29.54,5.06 L30.69,4.20 L31.84,3.46 L33.00,2.84 L34.15,2.36 L35.31,2.00 L36.46,1.78 L37.61,1.70 L38.77,1.75 L39.92,1.94 L41.07,2.26 L42.23,2.72 L43.38,3.31 L44.53,4.02 L45.69,4.85 L46.84,5.81 L48.00,6.88 L49.15,8.07 L50.30,9.38 L51.46,10.81 L52.61,12.40 L53.76,14.29 L54.92,16.66 L56.07,18.37 L57.22,19.88 L58.38,21.25 L59.53,22.50 L60.69,23.64 L61.84,24.66 L62.99,25.56 L64.15,26.33 L65.30,26.99 L66.45,27.51 L67.61,27.90 L68.76,28.16 L69.91,28.29 L71.07,28.28 L72.22,28.13 L73.38,27.85 L74.53,27.43 L75.68,26.89 L76.84,26.21 L77.99,25.41 L79.14,24.49 L80.30,23.45 L81.45,22.30 L82.60,21.03 L83.76,19.64 L84.91,18.10 L86.07,16.34 L87.22,13.93 L88.37,12.12 L89.53,10.56 L90.68,9.15 L91.83,7.86 L92.99,6.69 L94.14,5.64 L95.29,4.70 L96.45,3.89 L97.60,3.20 L98.76,2.63 L99.91,2.20 L101.06,1.90 L102.22,1.73 L103.37,1.71 L104.52,1.81 L105.68,2.05 L106.83,2.43 L107.98,2.94 L109.14,3.57 L110.29,4.33 L111.45,5.22 L112.60,6.22 L113.75,7.34 L114.91,8.57 L116.06,9.93 L117.21,11.42 L118.37,13.10 L119.52,15.40 L120.67,17.37 L121.83,18.99 L122.98,20.44 L124.14,21.76 L125.29,22.97 L126.44,24.06 L127.60,25.03 L128.75,25.88 L129.90,26.61 L131.06,27.21 L132.21,27.68 L133.36,28.02 L134.52,28.23" fill="none" stroke="#3cb52c" stroke-width="3.50"/>
<path d="M-3.92,1.92 L-2.76,2.24 L-1.61,2.68 L-0.46,3.26 L0.70,3.96 L1.85,4.79 L3.00,5.73 L4.16,6.80 L5.31,7.98 L6.46,9.27 L7.62,10.70 L8.77,12.27 L9.93,14.12 L11.08,16.52 L12.23,18.25 L13.39,19.77 L14.54,21.16 L15.69,22.41 L16.85,23.56 L18.00,24.58 L19.15,25.49 L20.31,26.28 L21.46,26.94 L22.62,27.48 L23.77,27.88 L24.92,28.15 L26.08,28.28 L27.23,28.28 L28.38,28.15 L29.54,27.87 L30.69,27.47 L31.84,26.93 L33.00,26.27 L34.15,25.48 L35.31,24.57 L36.46,23.54 L37.61,22.39 L38.77,21.13 L39.92,19.75 L41.07,18.22 L42.23,16.48 L43.38,14.08 L44.53,12.24 L45.69,10.67 L46.84,9.25 L48.00,7.95 L49.15,6.78 L50.30,5.71 L51.46,4.77 L52.61,3.95 L53.76,3.24 L54.92,2.67 L56.07,2.23 L57.22,1.92 L58.38,1.74 L59.53,1.70 L60.69,1.80 L61.84,2.03 L62.99,2.40 L64.15,2.89 L65.30,3.52 L66.45,4.27 L67.61,5.15 L68.76,6.14 L69.91,7.25 L71.07,8.48 L72.22,9.82 L73.38,11.30 L74.53,12.96 L75.68,15.20 L76.84,17.24 L77.99,18.87 L79.14,20.34 L80.30,21.67 L81.45,22.88 L82.60,23.98 L83.76,24.96 L84.91,25.82 L86.07,26.56 L87.22,27.17 L88.37,27.65 L89.53,28.00 L90.68,28.22 L91.83,28.30 L92.99,28.24 L94.14,28.05 L95.29,27.73 L96.45,27.27 L97.60,26.68 L98.76,25.97 L99.91,25.13 L101.06,24.17 L102.22,23.10 L103.37,21.91 L104.52,20.60 L105.68,19.16 L106.83,17.57 L107.98,15.67 L109.14,13.30 L110.29,11.60 L111.45,10.09 L112.60,8.72 L113.75,7.47 L114.91,6.34 L116.06,5.33 L117.21,4.43 L118.37,3.65 L119.52,3.00 L120.67,2.48 L121.83,2.09 L122.98,1.83 L124.14,1.71 L125.29,1.72 L126.44,1.87 L127.60,2.16 L128.75,2.58 L129.90,3.13 L131.06,3.80 L132.21,4.60 L133.36,5.53 L134.52,6.57" fill="none" stroke="#14917a" stroke-width="3.50"/>
<path d="M40.68,2.14 L41.47,2.40 L42.25,2.73 L43.03,3.11 L43.82,3.56 L44.60,4.06 L45.38,4.62 L46.17,5.24 L46.95,5.91 L47.73,6.63 L48.52,7.41 L49.30,8.24 L50.09,9.12 L50.87,10.06 L51.65,11.07 L52.44,12.15 L53.22,13.34 L54.00,14.80 L54.79,16.45 L55.57,17.66 L56.35,18.76" fill="none" stroke="#3cb52c" stroke-width="3.50"/>
<path d="M105.98,2.14 L106.77,2.40 L107.55,2.73 L108.33,3.11 L109.12,3.56 L109.90,4.06 L110.68,4.62 L111.47,5.24 L112.25,5.91 L113.03,6.63 L113.82,7.41 L114.60,8.24 L115.39,9.12 L116.17,10.06 L116.95,11.07 L117.74,12.15 L118.52,13.34 L119.30,14.80 L120.09,16.45 L120.87,17.66 L121.65,18.76" fill="none" stroke="#3cb52c" stroke-width="3.50"/>
</g>
</g>
<g transform="translate(738.90,281.80)">
<ellipse rx="125.0" ry="75.75" fill="#9587b5"/>
<ellipse rx="120.8" ry="72.6" fill="#c9b9e6"/>
<ellipse rx="113.3" ry="68.45" fill="#9587b5"/>
<ellipse rx="108.95" ry="65.5" fill="#e4e1ee"/>
</g>
<g transform="translate(668.10,267.00)">
<clipPath id="cg"><rect x="0" y="-5" width="130.60" height="40.00"/></clipPath>
<g clip-path="url(#cg)">
<line x1="4.44" y1="7.08" x2="4.44" y2="17.68" stroke="#33a08b" stroke-width="2.00"/>
<line x1="4.44" y1="17.68" x2="4.44" y2="28.28" stroke="#74d155" stroke-width="2.00"/>
<line x1="28.86" y1="28.05" x2="28.86" y2="16.83" stroke="#33a08b" stroke-width="2.00"/>
<line x1="28.86" y1="16.83" x2="28.86" y2="5.62" stroke="#74d155" stroke-width="2.00"/>
<line x1="37.22" y1="22.79" x2="37.22" y2="12.25" stroke="#33a08b" stroke-width="2.00"/>
<line x1="37.22" y1="12.25" x2="37.22" y2="1.71" stroke="#74d155" stroke-width="2.00"/>
<line x1="61.64" y1="1.98" x2="61.64" y2="13.24" stroke="#33a08b" stroke-width="2.00"/>
<line x1="61.64" y1="13.24" x2="61.64" y2="24.49" stroke="#74d155" stroke-width="2.00"/>
<line x1="70.00" y1="7.34" x2="70.00" y2="17.82" stroke="#33a08b" stroke-width="2.00"/>
<line x1="70.00" y1="17.82" x2="70.00" y2="28.29" stroke="#74d155" stroke-width="2.00"/>
<line x1="94.55" y1="27.95" x2="94.55" y2="16.62" stroke="#33a08b" stroke-width="2.00"/>
<line x1="94.55" y1="16.62" x2="94.55" y2="5.29" stroke="#74d155" stroke-width="2.00"/>
<line x1="102.91" y1="22.39" x2="102.91" y2="12.05" stroke="#33a08b" stroke-width="2.00"/>
<line x1="102.91" y1="12.05" x2="102.91" y2="1.70" stroke="#74d155" stroke-width="2.00"/>
<line x1="127.33" y1="2.08" x2="127.33" y2="13.45" stroke="#33a08b" stroke-width="2.00"/>
<line x1="127.33" y1="13.45" x2="127.33" y2="24.82" stroke="#74d155" stroke-width="2.00"/>
<path d="M-3.92,24.27 L-2.76,25.21 L-1.61,26.04 L-0.46,26.74 L0.70,27.32 L1.85,27.76 L3.00,28.08 L4.16,28.26 L5.31,28.30 L6.46,28.20 L7.62,27.97 L8.77,27.61 L9.93,27.12 L11.08,26.49 L12.23,25.74 L13.39,24.87 L14.54,23.88 L15.69,22.77 L16.85,21.55 L18.00,20.20 L19.15,18.73 L20.31,17.07 L21.46,14.86 L22.62,12.79 L23.77,11.15 L24.92,9.69 L26.08,8.36 L27.23,7.14 L28.38,6.04 L29.54,5.06 L30.69,4.20 L31.84,3.46 L33.00,2.84 L34.15,2.36 L35.31,2.00 L36.46,1.78 L37.61,1.70 L38.77,1.75 L39.92,1.94 L41.07,2.26 L42.23,2.72 L43.38,3.31 L44.53,4.02 L45.69,4.85 L46.84,5.81 L48.00,6.88 L49.15,8.07 L50.30,9.38 L51.46,10.81 L52.61,12.40 L53.76,14.29 L54.92,16.66 L56.07,18.37 L57.22,19.88 L58.38,21.25 L59.53,22.50 L60.69,23.64 L61.84,24.66 L62.99,25.56 L64.15,26.33 L65.30,26.99 L66.45,27.51 L67.61,27.90 L68.76,28.16 L69.91,28.29 L71.07,28.28 L72.22,28.13 L73.38,27.85 L74.53,27.43 L75.68,26.89 L76.84,26.21 L77.99,25.41 L79.14,24.49 L80.30,23.45 L81.45,22.30 L82.60,21.03 L83.76,19.64 L84.91,18.10 L86.07,16.34 L87.22,13.93 L88.37,12.12 L89.53,10.56 L90.68,9.15 L91.83,7.86 L92.99,6.69 L94.14,5.64 L95.29,4.70 L96.45,3.89 L97.60,3.20 L98.76,2.63 L99.91,2.20 L101.06,1.90 L102.22,1.73 L103.37,1.71 L104.52,1.81 L105.68,2.05 L106.83,2.43 L107.98,2.94 L109.14,3.57 L110.29,4.33 L111.45,5.22 L112.60,6.22 L113.75,7.34 L114.91,8.57 L116.06,9.93 L117.21,11.42 L118.37,13.10 L119.52,15.40 L120.67,17.37 L121.83,18.99 L122.98,20.44 L124.14,21.76 L125.29,22.97 L126.44,24.06 L127.60,25.03 L128.75,25.88 L129.90,26.61 L131.06,27.21 L132.21,27.68 L133.36,28.02 L134.52,28.23" fill="none" stroke="#3cb52c" stroke-width="3.50"/>
<path d="M-3.92,1.92 L-2.76,2.24 L-1.61,2.68 L-0.46,3.26 L0.70,3.96 L1.85,4.79 L3.00,5.73 L4.16,6.80 L5.31,7.98 L6.46,9.27 L7.62,10.70 L8.77,12.27 L9.93,14.12 L11.08,16.52 L12.23,18.25 L13.39,19.77 L14.54,21.16 L15.69,22.41 L16.85,23.56 L18.00,24.58 L19.15,25.49 L20.31,26.28 L21.46,26.94 L22.62,27.48 L23.77,27.88 L24.92,28.15 L26.08,28.28 L27.23,28.28 L28.38,28.15 L29.54,27.87 L30.69,27.47 L31.84,26.93 L33.00,26.27 L34.15,25.48 L35.31,24.57 L36.46,23.54 L37.61,22.39 L38.77,21.13 L39.92,19.75 L41.07,18.22 L42.23,16.48 L43.38,14.08 L44.53,12.24 L45.69,10.67 L46.84,9.25 L48.00,7.95 L49.15,6.78 L50.30,5.71 L51.46,4.77 L52.61,3.95 L53.76,3.24 L54.92,2.67 L56.07,2.23 L57.22,1.92 L58.38,1.74 L59.53,1.70 L60.69,1.80 L61.84,2.03 L62.99,2.40 L64.15,2.89 L65.30,3.52 L66.45,4.27 L67.61,5.15 L68.76,6.14 L69.91,7.25 L71.07,8.48 L72.22,9.82 L73.38,11.30 L74.53,12.96 L75.68,15.20 L76.84,17.24 L77.99,18.87 L79.14,20.34 L80.30,21.67 L81.45,22.88 L82.60,23.98 L83.76,24.96 L84.91,25.82 L86.07,26.56 L87.22,27.17 L88.37,27.65 L89.53,28.00 L90.68,28.22 L91.83,28.30 L92.99,28.24 L94.14,28.05 L95.29,27.73 L96.45,27.27 L97.60,26.68 L98.76,25.97 L99.91,25.13 L101.06,24.17 L102.22,23.10 L103.37,21.91 L104.52,20.60 L105.68,19.16 L106.83,17.57 L107.98,15.67 L109.14,13.30 L110.29,11.60 L111.45,10.09 L112.60,8.72 L113.75,7.47 L114.91,6.34 L116.06,5.33 L117.21,4.43 L118.37,3.65 L119.52,3.00 L120.67,2.48 L121.83,2.09 L122.98,1.83 L124.14,1.71 L125.29,1.72 L126.44,1.87 L127.60,2.16 L128.75,2.58 L129.90,3.13 L131.06,3.80 L132.21,4.60 L133.36,5.53 L134.52,6.57" fill="none" stroke="#14917a" stroke-width="3.50"/>
<path d="M40.68,2.14 L41.47,2.40 L42.25,2.73 L43.03,3.11 L43.82,3.56 L44.60,4.06 L45.38,4.62 L46.17,5.24 L46.95,5.91 L47.73,6.63 L48.52,7.41 L49.30,8.24 L50.09,9.12 L50.87,10.06 L51.65,11.07 L52.44,12.15 L53.22,13.34 L54.00,14.80 L54.79,16.45 L55.57,17.66 L56.35,18.76" fill="none" stroke="#3cb52c" stroke-width="3.50"/>
<path d="M105.98,2.14 L106.77,2.40 L107.55,2.73 L108.33,3.11 L109.12,3.56 L109.90,4.06 L110.68,4.62 L111.47,5.24 L112.25,5.91 L113.03,6.63 L113.82,7.41 L114.60,8.24 L115.39,9.12 L116.17,10.06 L116.95,11.07 L117.74,12.15 L118.52,13.34 L119.30,14.80 L120.09,16.45 L120.87,17.66 L121.65,18.76" fill="none" stroke="#3cb52c" stroke-width="3.50"/>
</g>
</g>
<circle cx="807.10" cy="51.30" r="8.10" fill="#d22227"/>
<circle cx="760.90" cy="85.50" r="8.10" fill="#d22227"/>
<circle cx="824.80" cy="80.20" r="8.10" fill="#d22227"/>
<circle cx="701.30" cy="454.50" r="8.30" fill="#d22227"/>
<circle cx="764.60" cy="453.30" r="8.30" fill="#d22227"/>
<circle cx="728.10" cy="493.90" r="8.30" fill="#d22227"/>
<circle cx="456.40" cy="318.40" r="12.30" fill="#d22227"/>
<circle cx="489.40" cy="314.10" r="12.30" fill="#d22227"/>
<circle cx="527.00" cy="322.40" r="12.30" fill="#d22227"/>
<circle cx="464.40" cy="350.90" r="12.30" fill="#d22227"/>
<circle cx="500.30" cy="346.80" r="12.30" fill="#d22227"/>
<circle cx="535.30" cy="354.50" r="12.30" fill="#d22227"/>
<circle cx="509.30" cy="377.50" r="12.30" fill="#d22227"/>
<line x1="404.20" y1="284.10" x2="563.60" y2="284.10" stroke="#1e1e1e" stroke-width="3.1"/><path d="M562.60,276.20 L583.40,284.10 L562.60,292.00 Z" fill="#1e1e1e"/>
<line x1="899.70" y1="283.40" x2="1059.00" y2="283.40" stroke="#1e1e1e" stroke-width="3.1"/><path d="M1058.00,275.80 L1077.90,283.40 L1058.00,291.00 Z" fill="#1e1e1e"/>
<g transform="translate(1224.75,154.95) rotate(-35.50) translate(-65.15,-15.00)">
<clipPath id="ch0"><rect x="0" y="-5" width="130.30" height="40.00"/></clipPath>
<g clip-path="url(#ch0)">
<line x1="4.43" y1="7.08" x2="4.43" y2="17.68" stroke="#33a08b" stroke-width="2.00"/>
<line x1="4.43" y1="17.68" x2="4.43" y2="28.28" stroke="#74d155" stroke-width="2.00"/>
<line x1="28.80" y1="28.05" x2="28.80" y2="16.83" stroke="#33a08b" stroke-width="2.00"/>
<line x1="28.80" y1="16.83" x2="28.80" y2="5.62" stroke="#74d155" stroke-width="2.00"/>
<line x1="37.14" y1="22.79" x2="37.14" y2="12.25" stroke="#33a08b" stroke-width="2.00"/>
<line x1="37.14" y1="12.25" x2="37.14" y2="1.71" stroke="#74d155" stroke-width="2.00"/>
<line x1="61.50" y1="1.98" x2="61.50" y2="13.24" stroke="#33a08b" stroke-width="2.00"/>
<line x1="61.50" y1="13.24" x2="61.50" y2="24.49" stroke="#74d155" stroke-width="2.00"/>
<line x1="69.84" y1="7.34" x2="69.84" y2="17.82" stroke="#33a08b" stroke-width="2.00"/>
<line x1="69.84" y1="17.82" x2="69.84" y2="28.29" stroke="#74d155" stroke-width="2.00"/>
<line x1="94.34" y1="27.95" x2="94.34" y2="16.62" stroke="#33a08b" stroke-width="2.00"/>
<line x1="94.34" y1="16.62" x2="94.34" y2="5.29" stroke="#74d155" stroke-width="2.00"/>
<line x1="102.68" y1="22.39" x2="102.68" y2="12.05" stroke="#33a08b" stroke-width="2.00"/>
<line x1="102.68" y1="12.05" x2="102.68" y2="1.70" stroke="#74d155" stroke-width="2.00"/>
<line x1="127.04" y1="2.08" x2="127.04" y2="13.45" stroke="#33a08b" stroke-width="2.00"/>
<line x1="127.04" y1="13.45" x2="127.04" y2="24.82" stroke="#74d155" stroke-width="2.00"/>
<path d="M-3.91,24.27 L-2.76,25.21 L-1.61,26.04 L-0.46,26.74 L0.69,27.32 L1.85,27.76 L3.00,28.08 L4.15,28.26 L5.30,28.30 L6.45,28.20 L7.60,27.97 L8.75,27.61 L9.90,27.12 L11.05,26.49 L12.20,25.74 L13.36,24.87 L14.51,23.88 L15.66,22.77 L16.81,21.55 L17.96,20.20 L19.11,18.73 L20.26,17.07 L21.41,14.86 L22.56,12.79 L23.71,11.15 L24.87,9.69 L26.02,8.36 L27.17,7.14 L28.32,6.04 L29.47,5.06 L30.62,4.20 L31.77,3.46 L32.92,2.84 L34.07,2.36 L35.22,2.00 L36.38,1.78 L37.53,1.70 L38.68,1.75 L39.83,1.94 L40.98,2.26 L42.13,2.72 L43.28,3.31 L44.43,4.02 L45.58,4.85 L46.73,5.81 L47.89,6.88 L49.04,8.07 L50.19,9.38 L51.34,10.81 L52.49,12.40 L53.64,14.29 L54.79,16.66 L55.94,18.37 L57.09,19.88 L58.24,21.25 L59.40,22.50 L60.55,23.64 L61.70,24.66 L62.85,25.56 L64.00,26.33 L65.15,26.99 L66.30,27.51 L67.45,27.90 L68.60,28.16 L69.75,28.29 L70.90,28.28 L72.06,28.13 L73.21,27.85 L74.36,27.43 L75.51,26.89 L76.66,26.21 L77.81,25.41 L78.96,24.49 L80.11,23.45 L81.26,22.30 L82.41,21.03 L83.57,19.64 L84.72,18.10 L85.87,16.34 L87.02,13.93 L88.17,12.12 L89.32,10.56 L90.47,9.15 L91.62,7.86 L92.77,6.69 L93.92,5.64 L95.08,4.70 L96.23,3.89 L97.38,3.20 L98.53,2.63 L99.68,2.20 L100.83,1.90 L101.98,1.73 L103.13,1.71 L104.28,1.81 L105.43,2.05 L106.59,2.43 L107.74,2.94 L108.89,3.57 L110.04,4.33 L111.19,5.22 L112.34,6.22 L113.49,7.34 L114.64,8.57 L115.79,9.93 L116.94,11.42 L118.10,13.10 L119.25,15.40 L120.40,17.37 L121.55,18.99 L122.70,20.44 L123.85,21.76 L125.00,22.97 L126.15,24.06 L127.30,25.03 L128.45,25.88 L129.61,26.61 L130.76,27.21 L131.91,27.68 L133.06,28.02 L134.21,28.23" fill="none" stroke="#3cb52c" stroke-width="3.50"/>
<path d="M-3.91,1.92 L-2.76,2.24 L-1.61,2.68 L-0.46,3.26 L0.69,3.96 L1.85,4.79 L3.00,5.73 L4.15,6.80 L5.30,7.98 L6.45,9.27 L7.60,10.70 L8.75,12.27 L9.90,14.12 L11.05,16.52 L12.20,18.25 L13.36,19.77 L14.51,21.16 L15.66,22.41 L16.81,23.56 L17.96,24.58 L19.11,25.49 L20.26,26.28 L21.41,26.94 L22.56,27.48 L23.71,27.88 L24.87,28.15 L26.02,28.28 L27.17,28.28 L28.32,28.15 L29.47,27.87 L30.62,27.47 L31.77,26.93 L32.92,26.27 L34.07,25.48 L35.22,24.57 L36.38,23.54 L37.53,22.39 L38.68,21.13 L39.83,19.75 L40.98,18.22 L42.13,16.48 L43.28,14.08 L44.43,12.24 L45.58,10.67 L46.73,9.25 L47.89,7.95 L49.04,6.78 L50.19,5.71 L51.34,4.77 L52.49,3.95 L53.64,3.24 L54.79,2.67 L55.94,2.23 L57.09,1.92 L58.24,1.74 L59.40,1.70 L60.55,1.80 L61.70,2.03 L62.85,2.40 L64.00,2.89 L65.15,3.52 L66.30,4.27 L67.45,5.15 L68.60,6.14 L69.75,7.25 L70.90,8.48 L72.06,9.82 L73.21,11.30 L74.36,12.96 L75.51,15.20 L76.66,17.24 L77.81,18.87 L78.96,20.34 L80.11,21.67 L81.26,22.88 L82.41,23.98 L83.57,24.96 L84.72,25.82 L85.87,26.56 L87.02,27.17 L88.17,27.65 L89.32,28.00 L90.47,28.22 L91.62,28.30 L92.77,28.24 L93.92,28.05 L95.08,27.73 L96.23,27.27 L97.38,26.68 L98.53,25.97 L99.68,25.13 L100.83,24.17 L101.98,23.10 L103.13,21.91 L104.28,20.60 L105.43,19.16 L106.59,17.57 L107.74,15.67 L108.89,13.30 L110.04,11.60 L111.19,10.09 L112.34,8.72 L113.49,7.47 L114.64,6.34 L115.79,5.33 L116.94,4.43 L118.10,3.65 L119.25,3.00 L120.40,2.48 L121.55,2.09 L122.70,1.83 L123.85,1.71 L125.00,1.72 L126.15,1.87 L127.30,2.16 L128.45,2.58 L129.61,3.13 L130.76,3.80 L131.91,4.60 L133.06,5.53 L134.21,6.57" fill="none" stroke="#14917a" stroke-width="3.50"/>
<path d="M40.59,2.14 L41.37,2.40 L42.15,2.73 L42.93,3.11 L43.72,3.56 L44.50,4.06 L45.28,4.62 L46.06,5.24 L46.84,5.91 L47.62,6.63 L48.41,7.41 L49.19,8.24 L49.97,9.12 L50.75,10.06 L51.53,11.07 L52.32,12.15 L53.10,13.34 L53.88,14.80 L54.66,16.45 L55.44,17.66 L56.22,18.76" fill="none" stroke="#3cb52c" stroke-width="3.50"/>
<path d="M105.74,2.14 L106.52,2.40 L107.30,2.73 L108.08,3.11 L108.87,3.56 L109.65,4.06 L110.43,4.62 L111.21,5.24 L111.99,5.91 L112.77,6.63 L113.56,7.41 L114.34,8.24 L115.12,9.12 L115.90,10.06 L116.68,11.07 L117.47,12.15 L118.25,13.34 L119.03,14.80 L119.81,16.45 L120.59,17.66 L121.37,18.76" fill="none" stroke="#3cb52c" stroke-width="3.50"/>
</g>
</g>
<g transform="translate(1325.25,189.90) rotate(17.20) translate(-65.15,-15.00)">
<clipPath id="ch1"><rect x="0" y="-5" width="130.30" height="40.00"/></clipPath>
<g clip-path="url(#ch1)">
<line x1="4.43" y1="7.08" x2="4.43" y2="17.68" stroke="#33a08b" stroke-width="2.00"/>
<line x1="4.43" y1="17.68" x2="4.43" y2="28.28" stroke="#74d155" stroke-width="2.00"/>
<line x1="28.80" y1="28.05" x2="28.80" y2="16.83" stroke="#33a08b" stroke-width="2.00"/>
<line x1="28.80" y1="16.83" x2="28.80" y2="5.62" stroke="#74d155" stroke-width="2.00"/>
<line x1="37.14" y1="22.79" x2="37.14" y2="12.25" stroke="#33a08b" stroke-width="2.00"/>
<line x1="37.14" y1="12.25" x2="37.14" y2="1.71" stroke="#74d155" stroke-width="2.00"/>
<line x1="61.50" y1="1.98" x2="61.50" y2="13.24" stroke="#33a08b" stroke-width="2.00"/>
<line x1="61.50" y1="13.24" x2="61.50" y2="24.49" stroke="#74d155" stroke-width="2.00"/>
<line x1="69.84" y1="7.34" x2="69.84" y2="17.82" stroke="#33a08b" stroke-width="2.00"/>
<line x1="69.84" y1="17.82" x2="69.84" y2="28.29" stroke="#74d155" stroke-width="2.00"/>
<line x1="94.34" y1="27.95" x2="94.34" y2="16.62" stroke="#33a08b" stroke-width="2.00"/>
<line x1="94.34" y1="16.62" x2="94.34" y2="5.29" stroke="#74d155" stroke-width="2.00"/>
<line x1="102.68" y1="22.39" x2="102.68" y2="12.05" stroke="#33a08b" stroke-width="2.00"/>
<line x1="102.68" y1="12.05" x2="102.68" y2="1.70" stroke="#74d155" stroke-width="2.00"/>
<line x1="127.04" y1="2.08" x2="127.04" y2="13.45" stroke="#33a08b" stroke-width="2.00"/>
<line x1="127.04" y1="13.45" x2="127.04" y2="24.82" stroke="#74d155" stroke-width="2.00"/>
<path d="M-3.91,24.27 L-2.76,25.21 L-1.61,26.04 L-0.46,26.74 L0.69,27.32 L1.85,27.76 L3.00,28.08 L4.15,28.26 L5.30,28.30 L6.45,28.20 L7.60,27.97 L8.75,27.61 L9.90,27.12 L11.05,26.49 L12.20,25.74 L13.36,24.87 L14.51,23.88 L15.66,22.77 L16.81,21.55 L17.96,20.20 L19.11,18.73 L20.26,17.07 L21.41,14.86 L22.56,12.79 L23.71,11.15 L24.87,9.69 L26.02,8.36 L27.17,7.14 L28.32,6.04 L29.47,5.06 L30.62,4.20 L31.77,3.46 L32.92,2.84 L34.07,2.36 L35.22,2.00 L36.38,1.78 L37.53,1.70 L38.68,1.75 L39.83,1.94 L40.98,2.26 L42.13,2.72 L43.28,3.31 L44.43,4.02 L45.58,4.85 L46.73,5.81 L47.89,6.88 L49.04,8.07 L50.19,9.38 L51.34,10.81 L52.49,12.40 L53.64,14.29 L54.79,16.66 L55.94,18.37 L57.09,19.88 L58.24,21.25 L59.40,22.50 L60.55,23.64 L61.70,24.66 L62.85,25.56 L64.00,26.33 L65.15,26.99 L66.30,27.51 L67.45,27.90 L68.60,28.16 L69.75,28.29 L70.90,28.28 L72.06,28.13 L73.21,27.85 L74.36,27.43 L75.51,26.89 L76.66,26.21 L77.81,25.41 L78.96,24.49 L80.11,23.45 L81.26,22.30 L82.41,21.03 L83.57,19.64 L84.72,18.10 L85.87,16.34 L87.02,13.93 L88.17,12.12 L89.32,10.56 L90.47,9.15 L91.62,7.86 L92.77,6.69 L93.92,5.64 L95.08,4.70 L96.23,3.89 L97.38,3.20 L98.53,2.63 L99.68,2.20 L100.83,1.90 L101.98,1.73 L103.13,1.71 L104.28,1.81 L105.43,2.05 L106.59,2.43 L107.74,2.94 L108.89,3.57 L110.04,4.33 L111.19,5.22 L112.34,6.22 L113.49,7.34 L114.64,8.57 L115.79,9.93 L116.94,11.42 L118.10,13.10 L119.25,15.40 L120.40,17.37 L121.55,18.99 L122.70,20.44 L123.85,21.76 L125.00,22.97 L126.15,24.06 L127.30,25.03 L128.45,25.88 L129.61,26.61 L130.76,27.21 L131.91,27.68 L133.06,28.02 L134.21,28.23" fill="none" stroke="#3cb52c" stroke-width="3.50"/>
<path d="M-3.91,1.92 L-2.76,2.24 L-1.61,2.68 L-0.46,3.26 L0.69,3.96 L1.85,4.79 L3.00,5.73 L4.15,6.80 L5.30,7.98 L6.45,9.27 L7.60,10.70 L8.75,12.27 L9.90,14.12 L11.05,16.52 L12.20,18.25 L13.36,19.77 L14.51,21.16 L15.66,22.41 L16.81,23.56 L17.96,24.58 L19.11,25.49 L20.26,26.28 L21.41,26.94 L22.56,27.48 L23.71,27.88 L24.87,28.15 L26.02,28.28 L27.17,28.28 L28.32,28.15 L29.47,27.87 L30.62,27.47 L31.77,26.93 L32.92,26.27 L34.07,25.48 L35.22,24.57 L36.38,23.54 L37.53,22.39 L38.68,21.13 L39.83,19.75 L40.98,18.22 L42.13,16.48 L43.28,14.08 L44.43,12.24 L45.58,10.67 L46.73,9.25 L47.89,7.95 L49.04,6.78 L50.19,5.71 L51.34,4.77 L52.49,3.95 L53.64,3.24 L54.79,2.67 L55.94,2.23 L57.09,1.92 L58.24,1.74 L59.40,1.70 L60.55,1.80 L61.70,2.03 L62.85,2.40 L64.00,2.89 L65.15,3.52 L66.30,4.27 L67.45,5.15 L68.60,6.14 L69.75,7.25 L70.90,8.48 L72.06,9.82 L73.21,11.30 L74.36,12.96 L75.51,15.20 L76.66,17.24 L77.81,18.87 L78.96,20.34 L80.11,21.67 L81.26,22.88 L82.41,23.98 L83.57,24.96 L84.72,25.82 L85.87,26.56 L87.02,27.17 L88.17,27.65 L89.32,28.00 L90.47,28.22 L91.62,28.30 L92.77,28.24 L93.92,28.05 L95.08,27.73 L96.23,27.27 L97.38,26.68 L98.53,25.97 L99.68,25.13 L100.83,24.17 L101.98,23.10 L103.13,21.91 L104.28,20.60 L105.43,19.16 L106.59,17.57 L107.74,15.67 L108.89,13.30 L110.04,11.60 L111.19,10.09 L112.34,8.72 L113.49,7.47 L114.64,6.34 L115.79,5.33 L116.94,4.43 L118.10,3.65 L119.25,3.00 L120.40,2.48 L121.55,2.09 L122.70,1.83 L123.85,1.71 L125.00,1.72 L126.15,1.87 L127.30,2.16 L128.45,2.58 L129.61,3.13 L130.76,3.80 L131.91,4.60 L133.06,5.53 L134.21,6.57" fill="none" stroke="#14917a" stroke-width="3.50"/>
<path d="M40.59,2.14 L41.37,2.40 L42.15,2.73 L42.93,3.11 L43.72,3.56 L44.50,4.06 L45.28,4.62 L46.06,5.24 L46.84,5.91 L47.62,6.63 L48.41,7.41 L49.19,8.24 L49.97,9.12 L50.75,10.06 L51.53,11.07 L52.32,12.15 L53.10,13.34 L53.88,14.80 L54.66,16.45 L55.44,17.66 L56.22,18.76" fill="none" stroke="#3cb52c" stroke-width="3.50"/>
<path d="M105.74,2.14 L106.52,2.40 L107.30,2.73 L108.08,3.11 L108.87,3.56 L109.65,4.06 L110.43,4.62 L111.21,5.24 L111.99,5.91 L112.77,6.63 L113.56,7.41 L114.34,8.24 L115.12,9.12 L115.90,10.06 L116.68,11.07 L117.47,12.15 L118.25,13.34 L119.03,14.80 L119.81,16.45 L120.59,17.66 L121.37,18.76" fill="none" stroke="#3cb52c" stroke-width="3.50"/>
</g>
</g>
<g transform="translate(1261.70,242.40) rotate(12.00) translate(-65.15,-15.00)">
<clipPath id="ch2"><rect x="0" y="-5" width="130.30" height="40.00"/></clipPath>
<g clip-path="url(#ch2)">
<line x1="4.43" y1="7.08" x2="4.43" y2="17.68" stroke="#33a08b" stroke-width="2.00"/>
<line x1="4.43" y1="17.68" x2="4.43" y2="28.28" stroke="#74d155" stroke-width="2.00"/>
<line x1="28.80" y1="28.05" x2="28.80" y2="16.83" stroke="#33a08b" stroke-width="2.00"/>
<line x1="28.80" y1="16.83" x2="28.80" y2="5.62" stroke="#74d155" stroke-width="2.00"/>
<line x1="37.14" y1="22.79" x2="37.14" y2="12.25" stroke="#33a08b" stroke-width="2.00"/>
<line x1="37.14" y1="12.25" x2="37.14" y2="1.71" stroke="#74d155" stroke-width="2.00"/>
<line x1="61.50" y1="1.98" x2="61.50" y2="13.24" stroke="#33a08b" stroke-width="2.00"/>
<line x1="61.50" y1="13.24" x2="61.50" y2="24.49" stroke="#74d155" stroke-width="2.00"/>
<line x1="69.84" y1="7.34" x2="69.84" y2="17.82" stroke="#33a08b" stroke-width="2.00"/>
<line x1="69.84" y1="17.82" x2="69.84" y2="28.29" stroke="#74d155" stroke-width="2.00"/>
<line x1="94.34" y1="27.95" x2="94.34" y2="16.62" stroke="#33a08b" stroke-width="2.00"/>
<line x1="94.34" y1="16.62" x2="94.34" y2="5.29" stroke="#74d155" stroke-width="2.00"/>
<line x1="102.68" y1="22.39" x2="102.68" y2="12.05" stroke="#33a08b" stroke-width="2.00"/>
<line x1="102.68" y1="12.05" x2="102.68" y2="1.70" stroke="#74d155" stroke-width="2.00"/>
<line x1="127.04" y1="2.08" x2="127.04" y2="13.45" stroke="#33a08b" stroke-width="2.00"/>
<line x1="127.04" y1="13.45" x2="127.04" y2="24.82" stroke="#74d155" stroke-width="2.00"/>
<path d="M-3.91,24.27 L-2.76,25.21 L-1.61,26.04 L-0.46,26.74 L0.69,27.32 L1.85,27.76 L3.00,28.08 L4.15,28.26 L5.30,28.30 L6.45,28.20 L7.60,27.97 L8.75,27.61 L9.90,27.12 L11.05,26.49 L12.20,25.74 L13.36,24.87 L14.51,23.88 L15.66,22.77 L16.81,21.55 L17.96,20.20 L19.11,18.73 L20.26,17.07 L21.41,14.86 L22.56,12.79 L23.71,11.15 L24.87,9.69 L26.02,8.36 L27.17,7.14 L28.32,6.04 L29.47,5.06 L30.62,4.20 L31.77,3.46 L32.92,2.84 L34.07,2.36 L35.22,2.00 L36.38,1.78 L37.53,1.70 L38.68,1.75 L39.83,1.94 L40.98,2.26 L42.13,2.72 L43.28,3.31 L44.43,4.02 L45.58,4.85 L46.73,5.81 L47.89,6.88 L49.04,8.07 L50.19,9.38 L51.34,10.81 L52.49,12.40 L53.64,14.29 L54.79,16.66 L55.94,18.37 L57.09,19.88 L58.24,21.25 L59.40,22.50 L60.55,23.64 L61.70,24.66 L62.85,25.56 L64.00,26.33 L65.15,26.99 L66.30,27.51 L67.45,27.90 L68.60,28.16 L69.75,28.29 L70.90,28.28 L72.06,28.13 L73.21,27.85 L74.36,27.43 L75.51,26.89 L76.66,26.21 L77.81,25.41 L78.96,24.49 L80.11,23.45 L81.26,22.30 L82.41,21.03 L83.57,19.64 L84.72,18.10 L85.87,16.34 L87.02,13.93 L88.17,12.12 L89.32,10.56 L90.47,9.15 L91.62,7.86 L92.77,6.69 L93.92,5.64 L95.08,4.70 L96.23,3.89 L97.38,3.20 L98.53,2.63 L99.68,2.20 L100.83,1.90 L101.98,1.73 L103.13,1.71 L104.28,1.81 L105.43,2.05 L106.59,2.43 L107.74,2.94 L108.89,3.57 L110.04,4.33 L111.19,5.22 L112.34,6.22 L113.49,7.34 L114.64,8.57 L115.79,9.93 L116.94,11.42 L118.10,13.10 L119.25,15.40 L120.40,17.37 L121.55,18.99 L122.70,20.44 L123.85,21.76 L125.00,22.97 L126.15,24.06 L127.30,25.03 L128.45,25.88 L129.61,26.61 L130.76,27.21 L131.91,27.68 L133.06,28.02 L134.21,28.23" fill="none" stroke="#3cb52c" stroke-width="3.50"/>
<path d="M-3.91,1.92 L-2.76,2.24 L-1.61,2.68 L-0.46,3.26 L0.69,3.96 L1.85,4.79 L3.00,5.73 L4.15,6.80 L5.30,7.98 L6.45,9.27 L7.60,10.70 L8.75,12.27 L9.90,14.12 L11.05,16.52 L12.20,18.25 L13.36,19.77 L14.51,21.16 L15.66,22.41 L16.81,23.56 L17.96,24.58 L19.11,25.49 L20.26,26.28 L21.41,26.94 L22.56,27.48 L23.71,27.88 L24.87,28.15 L26.02,28.28 L27.17,28.28 L28.32,28.15 L29.47,27.87 L30.62,27.47 L31.77,26.93 L32.92,26.27 L34.07,25.48 L35.22,24.57 L36.38,23.54 L37.53,22.39 L38.68,21.13 L39.83,19.75 L40.98,18.22 L42.13,16.48 L43.28,14.08 L44.43,12.24 L45.58,10.67 L46.73,9.25 L47.89,7.95 L49.04,6.78 L50.19,5.71 L51.34,4.77 L52.49,3.95 L53.64,3.24 L54.79,2.67 L55.94,2.23 L57.09,1.92 L58.24,1.74 L59.40,1.70 L60.55,1.80 L61.70,2.03 L62.85,2.40 L64.00,2.89 L65.15,3.52 L66.30,4.27 L67.45,5.15 L68.60,6.14 L69.75,7.25 L70.90,8.48 L72.06,9.82 L73.21,11.30 L74.36,12.96 L75.51,15.20 L76.66,17.24 L77.81,18.87 L78.96,20.34 L80.11,21.67 L81.26,22.88 L82.41,23.98 L83.57,24.96 L84.72,25.82 L85.87,26.56 L87.02,27.17 L88.17,27.65 L89.32,28.00 L90.47,28.22 L91.62,28.30 L92.77,28.24 L93.92,28.05 L95.08,27.73 L96.23,27.27 L97.38,26.68 L98.53,25.97 L99.68,25.13 L100.83,24.17 L101.98,23.10 L103.13,21.91 L104.28,20.60 L105.43,19.16 L106.59,17.57 L107.74,15.67 L108.89,13.30 L110.04,11.60 L111.19,10.09 L112.34,8.72 L113.49,7.47 L114.64,6.34 L115.79,5.33 L116.94,4.43 L118.10,3.65 L119.25,3.00 L120.40,2.48 L121.55,2.09 L122.70,1.83 L123.85,1.71 L125.00,1.72 L126.15,1.87 L127.30,2.16 L128.45,2.58 L129.61,3.13 L130.76,3.80 L131.91,4.60 L133.06,5.53 L134.21,6.57" fill="none" stroke="#14917a" stroke-width="3.50"/>
<path d="M40.59,2.14 L41.37,2.40 L42.15,2.73 L42.93,3.11 L43.72,3.56 L44.50,4.06 L45.28,4.62 L46.06,5.24 L46.84,5.91 L47.62,6.63 L48.41,7.41 L49.19,8.24 L49.97,9.12 L50.75,10.06 L51.53,11.07 L52.32,12.15 L53.10,13.34 L53.88,14.80 L54.66,16.45 L55.44,17.66 L56.22,18.76" fill="none" stroke="#3cb52c" stroke-width="3.50"/>
<path d="M105.74,2.14 L106.52,2.40 L107.30,2.73 L108.08,3.11 L108.87,3.56 L109.65,4.06 L110.43,4.62 L111.21,5.24 L111.99,5.91 L112.77,6.63 L113.56,7.41 L114.34,8.24 L115.12,9.12 L115.90,10.06 L116.68,11.07 L117.47,12.15 L118.25,13.34 L119.03,14.80 L119.81,16.45 L120.59,17.66 L121.37,18.76" fill="none" stroke="#3cb52c" stroke-width="3.50"/>
</g>
</g>
<g transform="translate(1197.55,305.35) rotate(-15.20) translate(-65.15,-15.00)">
<clipPath id="ch3"><rect x="0" y="-5" width="130.30" height="40.00"/></clipPath>
<g clip-path="url(#ch3)">
<line x1="4.43" y1="7.08" x2="4.43" y2="17.68" stroke="#33a08b" stroke-width="2.00"/>
<line x1="4.43" y1="17.68" x2="4.43" y2="28.28" stroke="#74d155" stroke-width="2.00"/>
<line x1="28.80" y1="28.05" x2="28.80" y2="16.83" stroke="#33a08b" stroke-width="2.00"/>
<line x1="28.80" y1="16.83" x2="28.80" y2="5.62" stroke="#74d155" stroke-width="2.00"/>
<line x1="37.14" y1="22.79" x2="37.14" y2="12.25" stroke="#33a08b" stroke-width="2.00"/>
<line x1="37.14" y1="12.25" x2="37.14" y2="1.71" stroke="#74d155" stroke-width="2.00"/>
<line x1="61.50" y1="1.98" x2="61.50" y2="13.24" stroke="#33a08b" stroke-width="2.00"/>
<line x1="61.50" y1="13.24" x2="61.50" y2="24.49" stroke="#74d155" stroke-width="2.00"/>
<line x1="69.84" y1="7.34" x2="69.84" y2="17.82" stroke="#33a08b" stroke-width="2.00"/>
<line x1="69.84" y1="17.82" x2="69.84" y2="28.29" stroke="#74d155" stroke-width="2.00"/>
<line x1="94.34" y1="27.95" x2="94.34" y2="16.62" stroke="#33a08b" stroke-width="2.00"/>
<line x1="94.34" y1="16.62" x2="94.34" y2="5.29" stroke="#74d155" stroke-width="2.00"/>
<line x1="102.68" y1="22.39" x2="102.68" y2="12.05" stroke="#33a08b" stroke-width="2.00"/>
<line x1="102.68" y1="12.05" x2="102.68" y2="1.70" stroke="#74d155" stroke-width="2.00"/>
<line x1="127.04" y1="2.08" x2="127.04" y2="13.45" stroke="#33a08b" stroke-width="2.00"/>
<line x1="127.04" y1="13.45" x2="127.04" y2="24.82" stroke="#74d155" stroke-width="2.00"/>
<path d="M-3.91,24.27 L-2.76,25.21 L-1.61,26.04 L-0.46,26.74 L0.69,27.32 L1.85,27.76 L3.00,28.08 L4.15,28.26 L5.30,28.30 L6.45,28.20 L7.60,27.97 L8.75,27.61 L9.90,27.12 L11.05,26.49 L12.20,25.74 L13.36,24.87 L14.51,23.88 L15.66,22.77 L16.81,21.55 L17.96,20.20 L19.11,18.73 L20.26,17.07 L21.41,14.86 L22.56,12.79 L23.71,11.15 L24.87,9.69 L26.02,8.36 L27.17,7.14 L28.32,6.04 L29.47,5.06 L30.62,4.20 L31.77,3.46 L32.92,2.84 L34.07,2.36 L35.22,2.00 L36.38,1.78 L37.53,1.70 L38.68,1.75 L39.83,1.94 L40.98,2.26 L42.13,2.72 L43.28,3.31 L44.43,4.02 L45.58,4.85 L46.73,5.81 L47.89,6.88 L49.04,8.07 L50.19,9.38 L51.34,10.81 L52.49,12.40 L53.64,14.29 L54.79,16.66 L55.94,18.37 L57.09,19.88 L58.24,21.25 L59.40,22.50 L60.55,23.64 L61.70,24.66 L62.85,25.56 L64.00,26.33 L65.15,26.99 L66.30,27.51 L67.45,27.90 L68.60,28.16 L69.75,28.29 L70.90,28.28 L72.06,28.13 L73.21,27.85 L74.36,27.43 L75.51,26.89 L76.66,26.21 L77.81,25.41 L78.96,24.49 L80.11,23.45 L81.26,22.30 L82.41,21.03 L83.57,19.64 L84.72,18.10 L85.87,16.34 L87.02,13.93 L88.17,12.12 L89.32,10.56 L90.47,9.15 L91.62,7.86 L92.77,6.69 L93.92,5.64 L95.08,4.70 L96.23,3.89 L97.38,3.20 L98.53,2.63 L99.68,2.20 L100.83,1.90 L101.98,1.73 L103.13,1.71 L104.28,1.81 L105.43,2.05 L106.59,2.43 L107.74,2.94 L108.89,3.57 L110.04,4.33 L111.19,5.22 L112.34,6.22 L113.49,7.34 L114.64,8.57 L115.79,9.93 L116.94,11.42 L118.10,13.10 L119.25,15.40 L120.40,17.37 L121.55,18.99 L122.70,20.44 L123.85,21.76 L125.00,22.97 L126.15,24.06 L127.30,25.03 L128.45,25.88 L129.61,26.61 L130.76,27.21 L131.91,27.68 L133.06,28.02 L134.21,28.23" fill="none" stroke="#3cb52c" stroke-width="3.50"/>
<path d="M-3.91,1.92 L-2.76,2.24 L-1.61,2.68 L-0.46,3.26 L0.69,3.96 L1.85,4.79 L3.00,5.73 L4.15,6.80 L5.30,7.98 L6.45,9.27 L7.60,10.70 L8.75,12.27 L9.90,14.12 L11.05,16.52 L12.20,18.25 L13.36,19.77 L14.51,21.16 L15.66,22.41 L16.81,23.56 L17.96,24.58 L19.11,25.49 L20.26,26.28 L21.41,26.94 L22.56,27.48 L23.71,27.88 L24.87,28.15 L26.02,28.28 L27.17,28.28 L28.32,28.15 L29.47,27.87 L30.62,27.47 L31.77,26.93 L32.92,26.27 L34.07,25.48 L35.22,24.57 L36.38,23.54 L37.53,22.39 L38.68,21.13 L39.83,19.75 L40.98,18.22 L42.13,16.48 L43.28,14.08 L44.43,12.24 L45.58,10.67 L46.73,9.25 L47.89,7.95 L49.04,6.78 L50.19,5.71 L51.34,4.77 L52.49,3.95 L53.64,3.24 L54.79,2.67 L55.94,2.23 L57.09,1.92 L58.24,1.74 L59.40,1.70 L60.55,1.80 L61.70,2.03 L62.85,2.40 L64.00,2.89 L65.15,3.52 L66.30,4.27 L67.45,5.15 L68.60,6.14 L69.75,7.25 L70.90,8.48 L72.06,9.82 L73.21,11.30 L74.36,12.96 L75.51,15.20 L76.66,17.24 L77.81,18.87 L78.96,20.34 L80.11,21.67 L81.26,22.88 L82.41,23.98 L83.57,24.96 L84.72,25.82 L85.87,26.56 L87.02,27.17 L88.17,27.65 L89.32,28.00 L90.47,28.22 L91.62,28.30 L92.77,28.24 L93.92,28.05 L95.08,27.73 L96.23,27.27 L97.38,26.68 L98.53,25.97 L99.68,25.13 L100.83,24.17 L101.98,23.10 L103.13,21.91 L104.28,20.60 L105.43,19.16 L106.59,17.57 L107.74,15.67 L108.89,13.30 L110.04,11.60 L111.19,10.09 L112.34,8.72 L113.49,7.47 L114.64,6.34 L115.79,5.33 L116.94,4.43 L118.10,3.65 L119.25,3.00 L120.40,2.48 L121.55,2.09 L122.70,1.83 L123.85,1.71 L125.00,1.72 L126.15,1.87 L127.30,2.16 L128.45,2.58 L129.61,3.13 L130.76,3.80 L131.91,4.60 L133.06,5.53 L134.21,6.57" fill="none" stroke="#14917a" stroke-width="3.50"/>
<path d="M40.59,2.14 L41.37,2.40 L42.15,2.73 L42.93,3.11 L43.72,3.56 L44.50,4.06 L45.28,4.62 L46.06,5.24 L46.84,5.91 L47.62,6.63 L48.41,7.41 L49.19,8.24 L49.97,9.12 L50.75,10.06 L51.53,11.07 L52.32,12.15 L53.10,13.34 L53.88,14.80 L54.66,16.45 L55.44,17.66 L56.22,18.76" fill="none" stroke="#3cb52c" stroke-width="3.50"/>
<path d="M105.74,2.14 L106.52,2.40 L107.30,2.73 L108.08,3.11 L108.87,3.56 L109.65,4.06 L110.43,4.62 L111.21,5.24 L111.99,5.91 L112.77,6.63 L113.56,7.41 L114.34,8.24 L115.12,9.12 L115.90,10.06 L116.68,11.07 L117.47,12.15 L118.25,13.34 L119.03,14.80 L119.81,16.45 L120.59,17.66 L121.37,18.76" fill="none" stroke="#3cb52c" stroke-width="3.50"/>
</g>
</g>
<g transform="translate(1332.60,309.20) rotate(-15.20) translate(-65.15,-15.00)">
<clipPath id="ch4"><rect x="0" y="-5" width="130.30" height="40.00"/></clipPath>
<g clip-path="url(#ch4)">
<line x1="4.43" y1="7.08" x2="4.43" y2="17.68" stroke="#33a08b" stroke-width="2.00"/>
<line x1="4.43" y1="17.68" x2="4.43" y2="28.28" stroke="#74d155" stroke-width="2.00"/>
<line x1="28.80" y1="28.05" x2="28.80" y2="16.83" stroke="#33a08b" stroke-width="2.00"/>
<line x1="28.80" y1="16.83" x2="28.80" y2="5.62" stroke="#74d155" stroke-width="2.00"/>
<line x1="37.14" y1="22.79" x2="37.14" y2="12.25" stroke="#33a08b" stroke-width="2.00"/>
<line x1="37.14" y1="12.25" x2="37.14" y2="1.71" stroke="#74d155" stroke-width="2.00"/>
<line x1="61.50" y1="1.98" x2="61.50" y2="13.24" stroke="#33a08b" stroke-width="2.00"/>
<line x1="61.50" y1="13.24" x2="61.50" y2="24.49" stroke="#74d155" stroke-width="2.00"/>
<line x1="69.84" y1="7.34" x2="69.84" y2="17.82" stroke="#33a08b" stroke-width="2.00"/>
<line x1="69.84" y1="17.82" x2="69.84" y2="28.29" stroke="#74d155" stroke-width="2.00"/>
<line x1="94.34" y1="27.95" x2="94.34" y2="16.62" stroke="#33a08b" stroke-width="2.00"/>
<line x1="94.34" y1="16.62" x2="94.34" y2="5.29" stroke="#74d155" stroke-width="2.00"/>
<line x1="102.68" y1="22.39" x2="102.68" y2="12.05" stroke="#33a08b" stroke-width="2.00"/>
<line x1="102.68" y1="12.05" x2="102.68" y2="1.70" stroke="#74d155" stroke-width="2.00"/>
<line x1="127.04" y1="2.08" x2="127.04" y2="13.45" stroke="#33a08b" stroke-width="2.00"/>
<line x1="127.04" y1="13.45" x2="127.04" y2="24.82" stroke="#74d155" stroke-width="2.00"/>
<path d="M-3.91,24.27 L-2.76,25.21 L-1.61,26.04 L-0.46,26.74 L0.69,27.32 L1.85,27.76 L3.00,28.08 L4.15,28.26 L5.30,28.30 L6.45,28.20 L7.60,27.97 L8.75,27.61 L9.90,27.12 L11.05,26.49 L12.20,25.74 L13.36,24.87 L14.51,23.88 L15.66,22.77 L16.81,21.55 L17.96,20.20 L19.11,18.73 L20.26,17.07 L21.41,14.86 L22.56,12.79 L23.71,11.15 L24.87,9.69 L26.02,8.36 L27.17,7.14 L28.32,6.04 L29.47,5.06 L30.62,4.20 L31.77,3.46 L32.92,2.84 L34.07,2.36 L35.22,2.00 L36.38,1.78 L37.53,1.70 L38.68,1.75 L39.83,1.94 L40.98,2.26 L42.13,2.72 L43.28,3.31 L44.43,4.02 L45.58,4.85 L46.73,5.81 L47.89,6.88 L49.04,8.07 L50.19,9.38 L51.34,10.81 L52.49,12.40 L53.64,14.29 L54.79,16.66 L55.94,18.37 L57.09,19.88 L58.24,21.25 L59.40,22.50 L60.55,23.64 L61.70,24.66 L62.85,25.56 L64.00,26.33 L65.15,26.99 L66.30,27.51 L67.45,27.90 L68.60,28.16 L69.75,28.29 L70.90,28.28 L72.06,28.13 L73.21,27.85 L74.36,27.43 L75.51,26.89 L76.66,26.21 L77.81,25.41 L78.96,24.49 L80.11,23.45 L81.26,22.30 L82.41,21.03 L83.57,19.64 L84.72,18.10 L85.87,16.34 L87.02,13.93 L88.17,12.12 L89.32,10.56 L90.47,9.15 L91.62,7.86 L92.77,6.69 L93.92,5.64 L95.08,4.70 L96.23,3.89 L97.38,3.20 L98.53,2.63 L99.68,2.20 L100.83,1.90 L101.98,1.73 L103.13,1.71 L104.28,1.81 L105.43,2.05 L106.59,2.43 L107.74,2.94 L108.89,3.57 L110.04,4.33 L111.19,5.22 L112.34,6.22 L113.49,7.34 L114.64,8.57 L115.79,9.93 L116.94,11.42 L118.10,13.10 L119.25,15.40 L120.40,17.37 L121.55,18.99 L122.70,20.44 L123.85,21.76 L125.00,22.97 L126.15,24.06 L127.30,25.03 L128.45,25.88 L129.61,26.61 L130.76,27.21 L131.91,27.68 L133.06,28.02 L134.21,28.23" fill="none" stroke="#3cb52c" stroke-width="3.50"/>
<path d="M-3.91,1.92 L-2.76,2.24 L-1.61,2.68 L-0.46,3.26 L0.69,3.96 L1.85,4.79 L3.00,5.73 L4.15,6.80 L5.30,7.98 L6.45,9.27 L7.60,10.70 L8.75,12.27 L9.90,14.12 L11.05,16.52 L12.20,18.25 L13.36,19.77 L14.51,21.16 L15.66,22.41 L16.81,23.56 L17.96,24.58 L19.11,25.49 L20.26,26.28 L21.41,26.94 L22.56,27.48 L23.71,27.88 L24.87,28.15 L26.02,28.28 L27.17,28.28 L28.32,28.15 L29.47,27.87 L30.62,27.47 L31.77,26.93 L32.92,26.27 L34.07,25.48 L35.22,24.57 L36.38,23.54 L37.53,22.39 L38.68,21.13 L39.83,19.75 L40.98,18.22 L42.13,16.48 L43.28,14.08 L44.43,12.24 L45.58,10.67 L46.73,9.25 L47.89,7.95 L49.04,6.78 L50.19,5.71 L51.34,4.77 L52.49,3.95 L53.64,3.24 L54.79,2.67 L55.94,2.23 L57.09,1.92 L58.24,1.74 L59.40,1.70 L60.55,1.80 L61.70,2.03 L62.85,2.40 L64.00,2.89 L65.15,3.52 L66.30,4.27 L67.45,5.15 L68.60,6.14 L69.75,7.25 L70.90,8.48 L72.06,9.82 L73.21,11.30 L74.36,12.96 L75.51,15.20 L76.66,17.24 L77.81,18.87 L78.96,20.34 L80.11,21.67 L81.26,22.88 L82.41,23.98 L83.57,24.96 L84.72,25.82 L85.87,26.56 L87.02,27.17 L88.17,27.65 L89.32,28.00 L90.47,28.22 L91.62,28.30 L92.77,28.24 L93.92,28.05 L95.08,27.73 L96.23,27.27 L97.38,26.68 L98.53,25.97 L99.68,25.13 L100.83,24.17 L101.98,23.10 L103.13,21.91 L104.28,20.60 L105.43,19.16 L106.59,17.57 L107.74,15.67 L108.89,13.30 L110.04,11.60 L111.19,10.09 L112.34,8.72 L113.49,7.47 L114.64,6.34 L115.79,5.33 L116.94,4.43 L118.10,3.65 L119.25,3.00 L120.40,2.48 L121.55,2.09 L122.70,1.83 L123.85,1.71 L125.00,1.72 L126.15,1.87 L127.30,2.16 L128.45,2.58 L129.61,3.13 L130.76,3.80 L131.91,4.60 L133.06,5.53 L134.21,6.57" fill="none" stroke="#14917a" stroke-width="3.50"/>
<path d="M40.59,2.14 L41.37,2.40 L42.15,2.73 L42.93,3.11 L43.72,3.56 L44.50,4.06 L45.28,4.62 L46.06,5.24 L46.84,5.91 L47.62,6.63 L48.41,7.41 L49.19,8.24 L49.97,9.12 L50.75,10.06 L51.53,11.07 L52.32,12.15 L53.10,13.34 L53.88,14.80 L54.66,16.45 L55.44,17.66 L56.22,18.76" fill="none" stroke="#3cb52c" stroke-width="3.50"/>
<path d="M105.74,2.14 L106.52,2.40 L107.30,2.73 L108.08,3.11 L108.87,3.56 L109.65,4.06 L110.43,4.62 L111.21,5.24 L111.99,5.91 L112.77,6.63 L113.56,7.41 L114.34,8.24 L115.12,9.12 L115.90,10.06 L116.68,11.07 L117.47,12.15 L118.25,13.34 L119.03,14.80 L119.81,16.45 L120.59,17.66 L121.37,18.76" fill="none" stroke="#3cb52c" stroke-width="3.50"/>
</g>
</g>
<g transform="translate(1251.90,377.90) rotate(21.30) translate(-65.15,-15.00)">
<clipPath id="ch5"><rect x="0" y="-5" width="130.30" height="40.00"/></clipPath>
<g clip-path="url(#ch5)">
<line x1="4.43" y1="7.08" x2="4.43" y2="17.68" stroke="#33a08b" stroke-width="2.00"/>
<line x1="4.43" y1="17.68" x2="4.43" y2="28.28" stroke="#74d155" stroke-width="2.00"/>
<line x1="28.80" y1="28.05" x2="28.80" y2="16.83" stroke="#33a08b" stroke-width="2.00"/>
<line x1="28.80" y1="16.83" x2="28.80" y2="5.62" stroke="#74d155" stroke-width="2.00"/>
<line x1="37.14" y1="22.79" x2="37.14" y2="12.25" stroke="#33a08b" stroke-width="2.00"/>
<line x1="37.14" y1="12.25" x2="37.14" y2="1.71" stroke="#74d155" stroke-width="2.00"/>
<line x1="61.50" y1="1.98" x2="61.50" y2="13.24" stroke="#33a08b" stroke-width="2.00"/>
<line x1="61.50" y1="13.24" x2="61.50" y2="24.49" stroke="#74d155" stroke-width="2.00"/>
<line x1="69.84" y1="7.34" x2="69.84" y2="17.82" stroke="#33a08b" stroke-width="2.00"/>
<line x1="69.84" y1="17.82" x2="69.84" y2="28.29" stroke="#74d155" stroke-width="2.00"/>
<line x1="94.34" y1="27.95" x2="94.34" y2="16.62" stroke="#33a08b" stroke-width="2.00"/>
<line x1="94.34" y1="16.62" x2="94.34" y2="5.29" stroke="#74d155" stroke-width="2.00"/>
<line x1="102.68" y1="22.39" x2="102.68" y2="12.05" stroke="#33a08b" stroke-width="2.00"/>
<line x1="102.68" y1="12.05" x2="102.68" y2="1.70" stroke="#74d155" stroke-width="2.00"/>
<line x1="127.04" y1="2.08" x2="127.04" y2="13.45" stroke="#33a08b" stroke-width="2.00"/>
<line x1="127.04" y1="13.45" x2="127.04" y2="24.82" stroke="#74d155" stroke-width="2.00"/>
<path d="M-3.91,24.27 L-2.76,25.21 L-1.61,26.04 L-0.46,26.74 L0.69,27.32 L1.85,27.76 L3.00,28.08 L4.15,28.26 L5.30,28.30 L6.45,28.20 L7.60,27.97 L8.75,27.61 L9.90,27.12 L11.05,26.49 L12.20,25.74 L13.36,24.87 L14.51,23.88 L15.66,22.77 L16.81,21.55 L17.96,20.20 L19.11,18.73 L20.26,17.07 L21.41,14.86 L22.56,12.79 L23.71,11.15 L24.87,9.69 L26.02,8.36 L27.17,7.14 L28.32,6.04 L29.47,5.06 L30.62,4.20 L31.77,3.46 L32.92,2.84 L34.07,2.36 L35.22,2.00 L36.38,1.78 L37.53,1.70 L38.68,1.75 L39.83,1.94 L40.98,2.26 L42.13,2.72 L43.28,3.31 L44.43,4.02 L45.58,4.85 L46.73,5.81 L47.89,6.88 L49.04,8.07 L50.19,9.38 L51.34,10.81 L52.49,12.40 L53.64,14.29 L54.79,16.66 L55.94,18.37 L57.09,19.88 L58.24,21.25 L59.40,22.50 L60.55,23.64 L61.70,24.66 L62.85,25.56 L64.00,26.33 L65.15,26.99 L66.30,27.51 L67.45,27.90 L68.60,28.16 L69.75,28.29 L70.90,28.28 L72.06,28.13 L73.21,27.85 L74.36,27.43 L75.51,26.89 L76.66,26.21 L77.81,25.41 L78.96,24.49 L80.11,23.45 L81.26,22.30 L82.41,21.03 L83.57,19.64 L84.72,18.10 L85.87,16.34 L87.02,13.93 L88.17,12.12 L89.32,10.56 L90.47,9.15 L91.62,7.86 L92.77,6.69 L93.92,5.64 L95.08,4.70 L96.23,3.89 L97.38,3.20 L98.53,2.63 L99.68,2.20 L100.83,1.90 L101.98,1.73 L103.13,1.71 L104.28,1.81 L105.43,2.05 L106.59,2.43 L107.74,2.94 L108.89,3.57 L110.04,4.33 L111.19,5.22 L112.34,6.22 L113.49,7.34 L114.64,8.57 L115.79,9.93 L116.94,11.42 L118.10,13.10 L119.25,15.40 L120.40,17.37 L121.55,18.99 L122.70,20.44 L123.85,21.76 L125.00,22.97 L126.15,24.06 L127.30,25.03 L128.45,25.88 L129.61,26.61 L130.76,27.21 L131.91,27.68 L133.06,28.02 L134.21,28.23" fill="none" stroke="#3cb52c" stroke-width="3.50"/>
<path d="M-3.91,1.92 L-2.76,2.24 L-1.61,2.68 L-0.46,3.26 L0.69,3.96 L1.85,4.79 L3.00,5.73 L4.15,6.80 L5.30,7.98 L6.45,9.27 L7.60,10.70 L8.75,12.27 L9.90,14.12 L11.05,16.52 L12.20,18.25 L13.36,19.77 L14.51,21.16 L15.66,22.41 L16.81,23.56 L17.96,24.58 L19.11,25.49 L20.26,26.28 L21.41,26.94 L22.56,27.48 L23.71,27.88 L24.87,28.15 L26.02,28.28 L27.17,28.28 L28.32,28.15 L29.47,27.87 L30.62,27.47 L31.77,26.93 L32.92,26.27 L34.07,25.48 L35.22,24.57 L36.38,23.54 L37.53,22.39 L38.68,21.13 L39.83,19.75 L40.98,18.22 L42.13,16.48 L43.28,14.08 L44.43,12.24 L45.58,10.67 L46.73,9.25 L47.89,7.95 L49.04,6.78 L50.19,5.71 L51.34,4.77 L52.49,3.95 L53.64,3.24 L54.79,2.67 L55.94,2.23 L57.09,1.92 L58.24,1.74 L59.40,1.70 L60.55,1.80 L61.70,2.03 L62.85,2.40 L64.00,2.89 L65.15,3.52 L66.30,4.27 L67.45,5.15 L68.60,6.14 L69.75,7.25 L70.90,8.48 L72.06,9.82 L73.21,11.30 L74.36,12.96 L75.51,15.20 L76.66,17.24 L77.81,18.87 L78.96,20.34 L80.11,21.67 L81.26,22.88 L82.41,23.98 L83.57,24.96 L84.72,25.82 L85.87,26.56 L87.02,27.17 L88.17,27.65 L89.32,28.00 L90.47,28.22 L91.62,28.30 L92.77,28.24 L93.92,28.05 L95.08,27.73 L96.23,27.27 L97.38,26.68 L98.53,25.97 L99.68,25.13 L100.83,24.17 L101.98,23.10 L103.13,21.91 L104.28,20.60 L105.43,19.16 L106.59,17.57 L107.74,15.67 L108.89,13.30 L110.04,11.60 L111.19,10.09 L112.34,8.72 L113.49,7.47 L114.64,6.34 L115.79,5.33 L116.94,4.43 L118.10,3.65 L119.25,3.00 L120.40,2.48 L121.55,2.09 L122.70,1.83 L123.85,1.71 L125.00,1.72 L126.15,1.87 L127.30,2.16 L128.45,2.58 L129.61,3.13 L130.76,3.80 L131.91,4.60 L133.06,5.53 L134.21,6.57" fill="none" stroke="#14917a" stroke-width="3.50"/>
<path d="M40.59,2.14 L41.37,2.40 L42.15,2.73 L42.93,3.11 L43.72,3.56 L44.50,4.06 L45.28,4.62 L46.06,5.24 L46.84,5.91 L47.62,6.63 L48.41,7.41 L49.19,8.24 L49.97,9.12 L50.75,10.06 L51.53,11.07 L52.32,12.15 L53.10,13.34 L53.88,14.80 L54.66,16.45 L55.44,17.66 L56.22,18.76" fill="none" stroke="#3cb52c" stroke-width="3.50"/>
<path d="M105.74,2.14 L106.52,2.40 L107.30,2.73 L108.08,3.11 L108.87,3.56 L109.65,4.06 L110.43,4.62 L111.21,5.24 L111.99,5.91 L112.77,6.63 L113.56,7.41 L114.34,8.24 L115.12,9.12 L115.90,10.06 L116.68,11.07 L117.47,12.15 L118.25,13.34 L119.03,14.80 L119.81,16.45 L120.59,17.66 L121.37,18.76" fill="none" stroke="#3cb52c" stroke-width="3.50"/>
</g>
</g>
<text transform="translate(137.66,183.40) scale(0.8664,1)">D</text>
<text transform="translate(157.52,183.40) scale(0.9280,1)">e</text>
<text transform="translate(173.59,183.40) scale(0.8277,1)">a</text>
<text transform="translate(189.71,183.40) scale(0.9513,1)">d</text>
<text transform="translate(213.26,183.40) scale(0.8595,1)">C</text>
<text transform="translate(232.81,183.40) scale(0.9348,1)">e</text>
<text transform="translate(248.86,183.40) scale(0.9838,1)">l</text>
<text transform="translate(256.46,183.40) scale(0.9838,1)">l</text>
<text transform="translate(194.53,387.30) scale(0.9399,1)">L</text>
<text transform="translate(210.65,387.30) scale(1.0681,1)">i</text>
<text transform="translate(218.46,387.30) scale(0.8924,1)">v</text>
<text transform="translate(232.81,387.30) scale(0.9348,1)">e</text>
<text transform="translate(256.46,387.30) scale(0.8595,1)">C</text>
<text transform="translate(275.82,387.30) scale(0.9280,1)">e</text>
<text transform="translate(291.74,387.30) scale(1.0681,1)">l</text>
<text transform="translate(299.42,387.30) scale(1.0119,1)">l</text>
<text transform="translate(406.01,222.30) scale(0.9362,1)">A</text>
<text transform="translate(425.69,222.30) scale(0.9797,1)">d</text>
<text transform="translate(442.18,222.30) scale(0.9939,1)">d</text>
<text transform="translate(467.33,222.30) scale(0.8832,1)">V</text>
<text transform="translate(485.47,222.30) scale(1.1243,1)">i</text>
<text transform="translate(493.99,222.30) scale(0.8340,1)">a</text>
<text transform="translate(509.65,222.30) scale(0.9797,1)">b</text>
<text transform="translate(526.17,222.30) scale(1.1243,1)">i</text>
<text transform="translate(534.40,222.30) scale(1.0962,1)">l</text>
<text transform="translate(541.61,222.30) scale(1.0962,1)">i</text>
<text transform="translate(549.36,222.30) scale(1.0793,1)">t</text>
<text transform="translate(560.08,222.30) scale(0.8883,1)">y</text>
<text transform="translate(405.49,253.30) scale(0.9583,1)">P</text>
<text transform="translate(424.85,253.30) scale(0.8698,1)">C</text>
<text transform="translate(444.51,253.30) scale(0.8425,1)">R</text>
<text transform="translate(470.44,253.30) scale(0.8261,1)">R</text>
<text transform="translate(488.92,253.30) scale(0.9212,1)">e</text>
<text transform="translate(505.19,253.30) scale(0.8340,1)">a</text>
<text transform="translate(521.01,253.30) scale(0.9513,1)">g</text>
<text transform="translate(537.72,253.30) scale(0.9212,1)">e</text>
<text transform="translate(553.71,253.30) scale(0.9729,1)">n</text>
<text transform="translate(570.16,253.30) scale(1.0437,1)">t</text>
<text transform="translate(579.13,253.30) scale(1.1934,1)">.</text>
<text transform="translate(961.18,257.40) scale(0.9643,1)">P</text>
<text transform="translate(980.35,257.40) scale(0.8647,1)">C</text>
<text transform="translate(999.78,257.40) scale(0.8590,1)">R</text>
</svg>
</body></html>
